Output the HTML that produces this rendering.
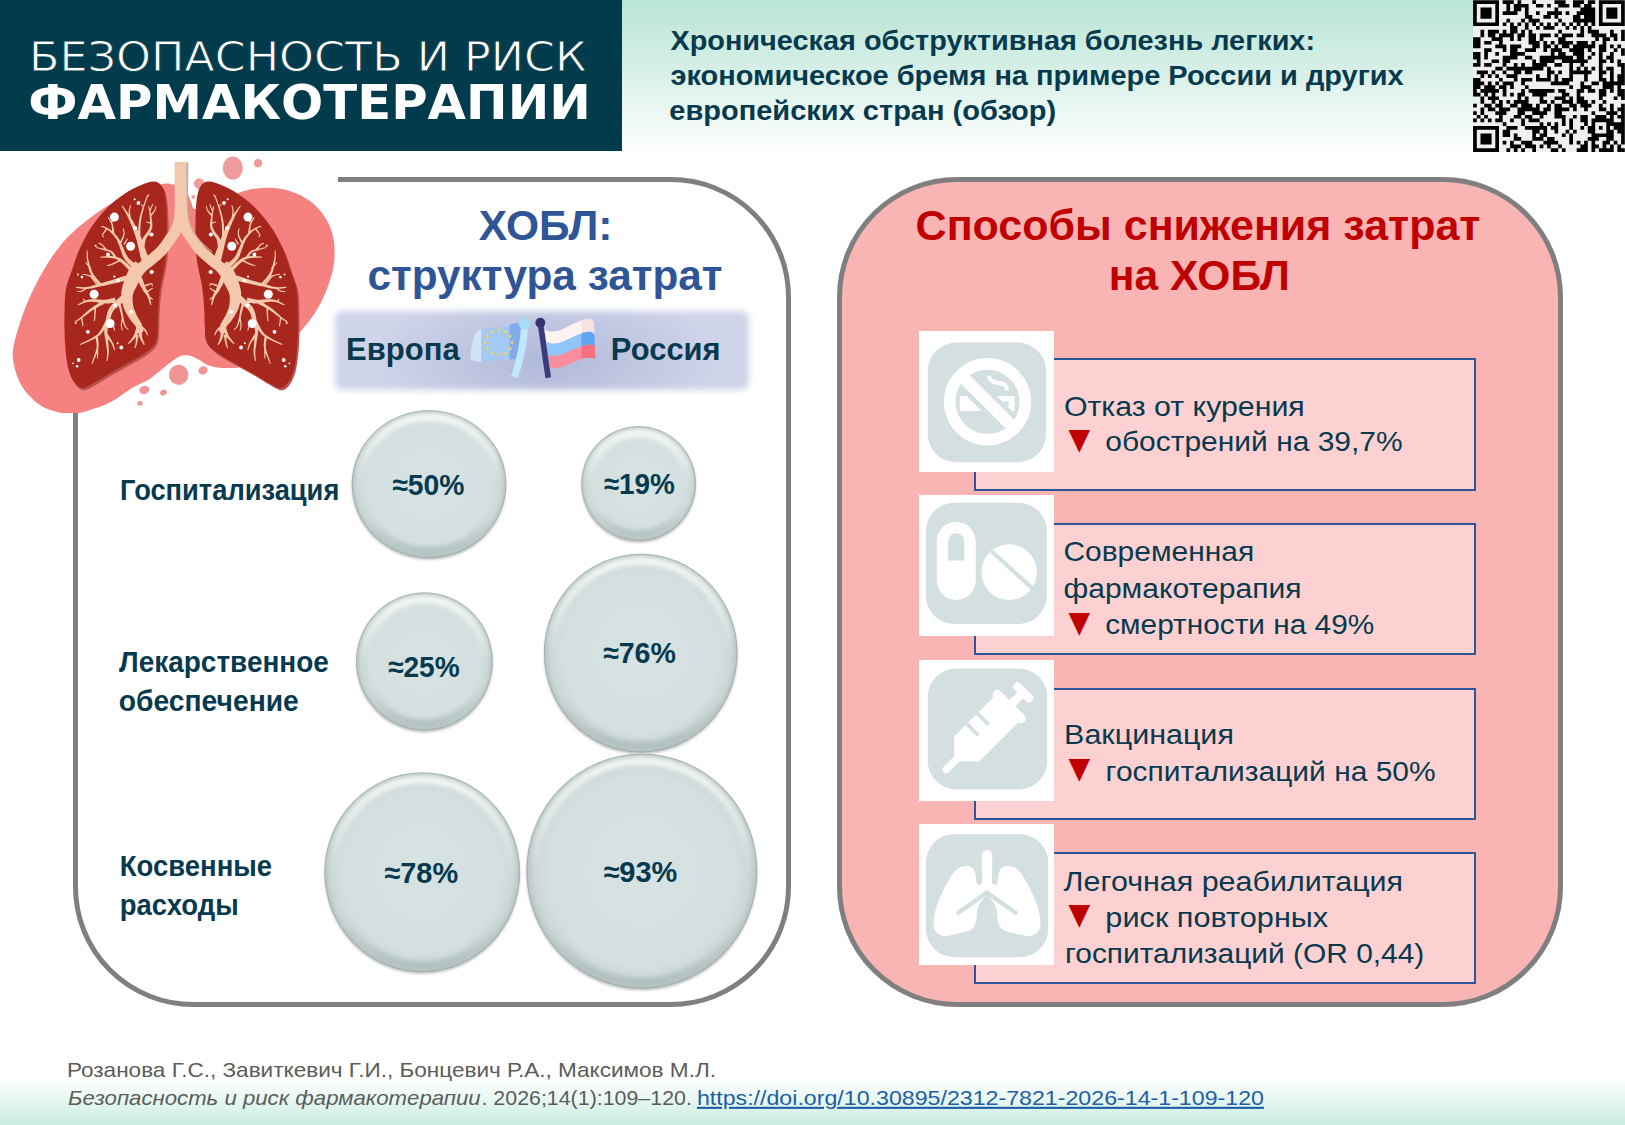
<!DOCTYPE html>
<html lang="ru">
<head>
<meta charset="utf-8">
<title>ХОБЛ: экономическое бремя</title>
<style>
html,body{margin:0;padding:0;}
body{width:1625px;height:1125px;position:relative;overflow:hidden;background:#fff;
 font-family:"Liberation Sans","DejaVu Sans",sans-serif;color:#0d3a4f;}
.abs{position:absolute;}
svg{position:absolute;left:0;top:0;overflow:visible;}
#hdrgrad{left:0;top:0;width:1625px;height:152px;background:linear-gradient(180deg,#b9e5d5 0%,#dbf1e9 52%,#ffffff 100%);}
#hdrdark{left:0;top:0;width:622px;height:151px;background:#023b4b;}
#ftrgrad{left:0;top:1078px;width:1625px;height:47px;background:linear-gradient(180deg,#ffffff 0%,#cbede1 100%);}
.panel{position:absolute;top:177px;height:819.5px;border:5px solid #7f7f7f;border-radius:120px;}
#lpanel{left:73px;width:708px;background:#fff;}
#rpanel{left:837px;width:716px;background:#f9b4b4;}
.card{position:absolute;left:974px;width:498px;height:128.4px;border:2px solid #2f5597;background:#fdd1d1;}
.ico{position:absolute;left:919px;width:135px;height:141px;background:#fff;}
#flagbox{left:335px;top:311px;width:414px;height:79px;border-radius:8px;
 background:radial-gradient(ellipse 42% 95% at 51% 62%,#b1b9db 0%,#bec5e0 45%,#cbd0e7 85%,#cfd4e9 100%);filter:blur(3.2px);}
#lungbg{left:0;top:152px;width:338px;height:261px;background:#fff;}
text{font-family:"Liberation Sans","DejaVu Sans",sans-serif;}
</style>
</head>
<body>
<div class="abs" id="hdrgrad"></div>
<div class="abs" id="ftrgrad"></div>
<div class="abs" id="hdrdark"></div>
<div class="panel" id="lpanel"></div>
<div class="panel" id="rpanel"></div>
<div class="abs" id="lungbg"></div>
<div class="abs" id="flagbox"></div>
<div class="card" style="top:358.4px"></div>
<div class="card" style="top:522.8px"></div>
<div class="card" style="top:687.5px"></div>
<div class="card" style="top:852px"></div>
<div class="ico" style="top:330.8px"></div>
<div class="ico" style="top:495.2px"></div>
<div class="ico" style="top:659.9px"></div>
<div class="ico" style="top:823.9px"></div>
<svg id="lungs" width="1625" height="1125" viewBox="0 0 1625 1125">
<defs><clipPath id="lclip"><rect x="0" y="152" width="338" height="261"/></clipPath></defs>
<g clip-path="url(#lclip)">
<path d="M163.0,184.0C156.7,185.3 145.6,187.1 134.4,192.0C123.2,196.9 108.4,204.6 96.0,213.6C83.6,222.6 70.8,232.6 60.0,246.0C49.2,259.4 38.8,278.0 31.2,294.0C23.6,310.0 17.4,330.2 14.5,342.0C11.6,353.8 12.7,357.6 14.0,365.0C15.3,372.4 18.0,379.9 22.1,386.4C26.2,392.9 33.2,400.0 38.8,404.2C44.3,408.4 49.9,409.9 55.4,411.5C60.9,413.1 66.5,414.2 72.0,414.0C77.5,413.8 82.1,412.5 88.6,410.5C95.0,408.5 103.3,405.8 110.7,402.0C118.1,398.2 126.5,391.3 132.9,387.5C139.3,383.7 144.0,382.6 149.2,379.2C154.4,375.8 159.1,371.1 164.0,367.4C168.9,363.7 174.6,358.8 178.7,356.8C182.8,354.8 185.3,355.2 188.6,355.6C191.9,356.1 195.1,357.9 198.4,359.5C201.7,361.1 204.2,363.8 208.3,365.2C212.4,366.6 216.9,367.8 223.0,367.9C229.1,368.0 236.3,368.6 245.0,366.0C253.7,363.4 266.2,357.2 275.0,352.0C283.8,346.8 290.0,342.9 297.6,334.8C305.2,326.7 314.4,315.2 320.4,303.6C326.4,292.0 331.8,277.2 333.7,265.2C335.6,253.2 334.7,241.5 331.7,231.6C328.7,221.7 322.5,212.4 315.6,205.7C308.7,199.0 299.0,194.3 290.4,191.3C281.8,188.3 272.8,187.6 264.0,187.9C255.2,188.2 244.3,190.5 237.6,193.2C230.9,195.9 229.1,200.7 224.0,204.0C218.9,207.3 211.5,212.1 207.0,213.0C202.5,213.9 199.3,210.3 197.0,209.5C194.7,208.7 194.2,209.2 193.2,208.0C192.2,206.8 191.7,203.9 191.0,202.0C190.3,200.1 189.6,198.5 188.8,196.5C188.0,194.5 187.5,191.8 186.0,190.0C184.5,188.2 182.3,186.4 180.0,185.5C177.7,184.6 174.8,184.6 172.0,184.3C169.2,184.1 169.3,182.7 163.0,184.0Z" fill="#f58181"/>
<ellipse cx="232.8" cy="168.0" rx="10.1" ry="11.5" fill="#f09b9b"/>
<ellipse cx="258.0" cy="163.2" rx="4.1" ry="4.1" fill="#f09b9b"/>
<ellipse cx="199.2" cy="183.6" rx="5.3" ry="5.3" fill="#f09b9b"/>
<ellipse cx="193.2" cy="196.8" rx="1.9" ry="1.9" fill="#f09b9b"/>
<ellipse cx="178.7" cy="374.8" rx="9.8" ry="10.0" fill="#ef9595" transform="rotate(-20 178.7 374.8)"/>
<ellipse cx="203.1" cy="370.4" rx="4.7" ry="3.9" fill="#ef9595" transform="rotate(-25 203.1 370.4)"/>
<ellipse cx="144.3" cy="390.0" rx="5.1" ry="4.1" fill="#ef9595" transform="rotate(-15 144.3 390.0)"/>
<ellipse cx="163.5" cy="392.5" rx="3.5" ry="2.7" fill="#ef9595" transform="rotate(-25 163.5 392.5)"/>
<ellipse cx="139.9" cy="403.3" rx="2.7" ry="2.4" fill="#ef9595" transform="rotate(0 139.9 403.3)"/>
<g id="Llung"><path d="M153.8,181.6C150.2,181.5 145.0,183.4 140.0,185.5C135.0,187.5 129.3,190.6 124.0,194.2C118.7,197.8 113.3,201.7 108.0,207.0C102.7,212.3 96.8,219.1 92.0,226.2C87.2,233.3 82.6,242.2 79.2,249.7C75.8,257.1 74.0,264.4 71.7,271.0C69.5,277.5 67.1,282.3 65.9,288.9C64.7,295.4 64.8,303.3 64.6,310.2C64.4,317.1 64.3,323.9 64.5,330.5C64.6,337.0 64.9,343.3 65.5,349.7C66.2,356.0 67.0,363.5 68.3,368.8C69.7,374.2 71.5,378.4 73.7,381.6C75.8,384.8 78.3,387.7 81.3,388.0C84.4,388.4 86.7,386.8 92.0,384.0C97.3,381.2 106.2,375.3 113.3,371.2C120.4,367.1 128.4,363.2 134.7,359.5C140.9,355.7 147.0,352.0 150.6,348.8C154.3,345.6 155.4,343.8 156.5,340.1C157.7,336.3 157.3,331.7 157.6,326.2C157.9,320.7 157.8,313.7 158.3,307.0C158.8,300.2 159.3,292.9 160.5,285.7C161.6,278.4 164.0,270.6 165.0,263.5C166.1,256.4 166.3,250.5 166.6,243.3C166.9,236.0 167.0,227.3 166.9,219.8C166.7,212.3 166.4,204.1 165.6,198.5C164.7,192.9 163.8,189.0 161.8,186.2C159.9,183.4 157.5,181.7 153.8,181.6Z" fill="#bb504c" transform="translate(1.6,2.2)"/>
<path d="M153.8,181.6C150.2,181.5 145.0,183.4 140.0,185.5C135.0,187.5 129.3,190.6 124.0,194.2C118.7,197.8 113.3,201.7 108.0,207.0C102.7,212.3 96.8,219.1 92.0,226.2C87.2,233.3 82.6,242.2 79.2,249.7C75.8,257.1 74.0,264.4 71.7,271.0C69.5,277.5 67.1,282.3 65.9,288.9C64.7,295.4 64.8,303.3 64.6,310.2C64.4,317.1 64.3,323.9 64.5,330.5C64.6,337.0 64.9,343.3 65.5,349.7C66.2,356.0 67.0,363.5 68.3,368.8C69.7,374.2 71.5,378.4 73.7,381.6C75.8,384.8 78.3,387.7 81.3,388.0C84.4,388.4 86.7,386.8 92.0,384.0C97.3,381.2 106.2,375.3 113.3,371.2C120.4,367.1 128.4,363.2 134.7,359.5C140.9,355.7 147.0,352.0 150.6,348.8C154.3,345.6 155.4,343.8 156.5,340.1C157.7,336.3 157.3,331.7 157.6,326.2C157.9,320.7 157.8,313.7 158.3,307.0C158.8,300.2 159.3,292.9 160.5,285.7C161.6,278.4 164.0,270.6 165.0,263.5C166.1,256.4 166.3,250.5 166.6,243.3C166.9,236.0 167.0,227.3 166.9,219.8C166.7,212.3 166.4,204.1 165.6,198.5C164.7,192.9 163.8,189.0 161.8,186.2C159.9,183.4 157.5,181.7 153.8,181.6Z" fill="#a7271c"/>
<path d="M135.4,261.2 L134.7,262.1 L133.7,263.4 L132.5,265.0 L131.2,266.8 L129.9,268.7 L128.6,270.6 L127.6,272.6 L126.7,274.5 L126.0,276.4 L125.4,278.0 L124.9,279.3 L124.6,280.2 L137.3,285.3 L137.7,284.3 L138.2,283.0 L138.8,281.6 L139.4,280.1 L140.1,278.8 L140.7,277.7 L141.4,276.6 L142.5,275.2 L143.7,273.7 L144.8,272.3 L145.9,271.0 L146.7,270.1Z M124.6,279.9 L124.3,281.0 L123.7,282.5 L123.0,284.6 L122.3,287.0 L121.7,289.6 L121.3,292.3 L121.3,294.9 L121.4,297.4 L121.7,299.9 L122.2,302.4 L122.8,304.8 L123.5,307.2 L124.4,309.6 L125.5,311.9 L126.7,314.0 L127.9,316.1 L129.1,317.9 L130.2,319.6 L131.3,321.2 L132.5,322.6 L133.5,323.8 L134.5,324.8 L135.2,325.7 L135.8,326.5 L136.3,327.5 L136.9,328.7 L137.3,330.0 L137.7,331.3 L138.0,332.4 L138.3,333.2 L143.4,332.0 L143.2,331.2 L143.1,330.1 L142.9,328.6 L142.6,327.1 L142.2,325.4 L141.6,323.7 L140.8,322.2 L140.0,320.8 L139.1,319.5 L138.4,318.3 L137.7,317.1 L137.0,315.7 L136.2,314.0 L135.4,312.1 L134.6,310.2 L133.9,308.3 L133.4,306.4 L133.0,304.6 L132.8,302.8 L132.6,300.9 L132.6,299.0 L132.6,297.1 L132.8,295.4 L133.1,293.9 L133.5,292.6 L134.1,291.1 L135.0,289.4 L135.8,287.8 L136.7,286.2 L137.2,285.0Z M138.0,330.7 L138.2,331.5 L138.4,332.6 L138.7,333.9 L139.0,335.4 L139.4,336.9 L139.9,338.3 L140.5,339.6 L141.3,341.0 L142.1,342.2 L142.9,343.4 L143.5,344.4 L144.0,345.1 L144.9,344.6 L144.6,343.8 L144.1,342.7 L143.6,341.5 L143.0,340.1 L142.6,338.8 L142.2,337.6 L142.1,336.3 L142.0,335.0 L141.9,333.6 L141.9,332.2 L141.9,331.1 L141.9,330.2Z M136.6,326.6 L136.2,327.6 L135.9,329.1 L135.4,330.7 L134.8,332.5 L134.2,334.2 L133.6,335.7 L132.8,337.1 L131.7,338.6 L130.6,340.1 L129.5,341.4 L128.5,342.6 L127.9,343.4 L128.6,344.1 L129.4,343.4 L130.5,342.4 L131.8,341.2 L133.2,339.8 L134.6,338.4 L135.7,337.0 L136.7,335.4 L137.6,333.7 L138.4,331.9 L139.2,330.3 L139.8,328.9 L140.2,327.9Z M136.0,334.6 L136.0,335.6 L135.9,337.0 L135.9,338.6 L135.8,340.3 L135.7,341.8 L135.6,343.1 L135.4,344.1 L135.2,345.1 L134.9,346.0 L134.6,346.7 L134.4,347.4 L134.2,347.9 L135.1,348.2 L135.3,347.8 L135.6,347.2 L136.0,346.4 L136.4,345.5 L136.8,344.5 L137.1,343.4 L137.4,342.1 L137.7,340.5 L138.0,338.8 L138.3,337.2 L138.5,335.8 L138.6,334.8Z M138.3,326.8 L139.1,327.3 L140.1,327.9 L141.4,328.7 L142.7,329.5 L143.8,330.3 L144.7,331.0 L145.3,331.7 L145.8,332.6 L146.3,333.4 L146.7,334.2 L147.0,334.9 L147.2,335.4 L148.1,335.1 L147.9,334.5 L147.7,333.8 L147.5,332.9 L147.1,331.9 L146.6,330.9 L146.0,329.9 L145.1,328.9 L144.0,327.8 L142.8,326.8 L141.6,325.9 L140.6,325.1 L140.0,324.5Z M123.9,292.9 L123.2,293.6 L122.2,294.5 L121.1,295.7 L119.8,296.9 L118.5,298.3 L117.2,299.5 L116.0,300.8 L114.6,302.1 L113.1,303.4 L111.7,304.9 L110.3,306.6 L109.1,308.4 L108.2,310.2 L107.5,312.1 L107.0,314.0 L106.6,315.8 L106.3,317.6 L106.0,319.3 L105.6,321.0 L105.2,322.8 L104.8,324.7 L104.5,326.6 L104.3,328.5 L104.2,330.4 L104.3,332.3 L104.4,334.2 L104.7,336.0 L105.1,337.8 L105.4,339.5 L105.7,341.3 L105.9,343.1 L106.2,344.9 L106.5,346.7 L106.8,348.4 L107.0,350.2 L107.1,351.8 L107.1,353.4 L107.0,355.2 L106.9,356.9 L106.7,358.5 L106.5,359.8 L106.4,360.8 L107.4,360.9 L107.6,360.0 L107.9,358.7 L108.2,357.1 L108.5,355.3 L108.7,353.5 L108.9,351.8 L108.9,350.0 L108.8,348.3 L108.6,346.4 L108.5,344.6 L108.3,342.8 L108.2,341.0 L108.0,339.2 L107.8,337.4 L107.6,335.6 L107.5,333.9 L107.4,332.2 L107.5,330.5 L107.7,328.9 L108.1,327.2 L108.5,325.5 L109.0,323.8 L109.5,322.0 L110.0,320.3 L110.5,318.5 L111.0,316.8 L111.4,315.2 L111.9,313.6 L112.6,312.2 L113.3,311.0 L114.2,309.8 L115.4,308.6 L116.8,307.4 L118.2,306.2 L119.7,305.0 L121.2,303.8 L122.5,302.6 L123.9,301.4 L125.2,300.3 L126.5,299.2 L127.5,298.3 L128.3,297.7Z M105.6,335.4 L106.3,336.4 L107.3,337.7 L108.4,339.2 L109.6,340.7 L110.7,342.3 L111.5,343.6 L112.2,344.9 L112.7,346.2 L113.2,347.4 L113.6,348.6 L113.9,349.6 L114.1,350.3 L115.1,350.0 L114.9,349.3 L114.7,348.3 L114.4,347.1 L114.0,345.7 L113.6,344.3 L113.0,342.9 L112.2,341.4 L111.3,339.7 L110.2,337.9 L109.2,336.3 L108.4,335.0 L107.8,334.0Z M107.4,322.8 L108.0,323.2 L108.9,323.7 L109.9,324.4 L111.0,325.1 L111.9,325.8 L112.5,326.4 L113.0,327.1 L113.3,327.9 L113.6,328.7 L113.8,329.5 L114.0,330.3 L114.1,330.8 L115.1,330.6 L115.0,330.0 L114.9,329.3 L114.7,328.4 L114.5,327.5 L114.2,326.5 L113.7,325.5 L112.9,324.7 L112.0,323.8 L111.0,322.9 L110.0,322.2 L109.2,321.5 L108.6,321.1Z M116.7,299.4 L117.1,300.6 L117.6,302.3 L118.2,304.3 L118.8,306.5 L119.4,308.6 L119.9,310.4 L120.4,312.1 L120.8,313.8 L121.2,315.5 L121.6,317.1 L122.0,318.6 L122.3,320.0 L122.7,321.3 L123.1,322.5 L123.5,323.7 L123.8,324.8 L124.3,325.8 L124.7,326.7 L125.3,327.5 L126.0,328.2 L126.6,328.8 L127.3,329.3 L127.8,329.7 L128.2,330.0 L128.8,329.2 L128.4,328.9 L127.9,328.5 L127.3,328.0 L126.8,327.4 L126.2,326.8 L125.8,326.1 L125.4,325.3 L125.1,324.3 L124.8,323.3 L124.5,322.1 L124.2,320.9 L123.9,319.6 L123.6,318.2 L123.3,316.7 L123.0,315.1 L122.7,313.4 L122.4,311.7 L122.1,309.9 L121.6,308.0 L121.2,305.9 L120.7,303.7 L120.2,301.6 L119.8,299.9 L119.5,298.6Z M121.7,317.5 L121.6,318.4 L121.4,319.5 L121.2,320.9 L121.0,322.4 L120.9,323.8 L120.8,325.1 L120.9,326.3 L121.1,327.4 L121.4,328.5 L121.6,329.4 L121.9,330.2 L122.0,330.8 L123.0,330.6 L122.8,330.0 L122.6,329.2 L122.4,328.2 L122.2,327.2 L122.1,326.2 L122.0,325.1 L122.1,324.0 L122.3,322.6 L122.6,321.2 L122.9,319.8 L123.1,318.6 L123.3,317.8Z M115.0,297.6 L113.8,297.9 L112.2,298.3 L110.3,298.7 L108.4,299.2 L106.4,299.5 L104.7,299.7 L103.2,299.8 L101.7,299.7 L100.1,299.5 L98.5,299.4 L96.9,299.2 L95.3,299.2 L93.7,299.2 L92.3,299.2 L90.8,299.3 L89.4,299.5 L87.9,299.8 L86.4,300.2 L84.8,300.8 L83.1,301.6 L81.4,302.5 L79.9,303.3 L78.6,304.1 L77.7,304.6 L78.1,305.5 L79.1,305.1 L80.5,304.5 L82.1,303.8 L83.8,303.1 L85.4,302.5 L86.9,302.1 L88.3,301.9 L89.6,301.8 L90.9,301.8 L92.3,301.8 L93.7,301.9 L95.1,302.0 L96.6,302.2 L98.0,302.5 L99.6,302.8 L101.2,303.2 L103.0,303.5 L104.8,303.6 L106.8,303.5 L109.0,303.4 L111.1,303.1 L113.1,302.9 L114.7,302.6 L115.9,302.5Z M102.4,301.0 L101.5,301.5 L100.3,302.2 L98.9,303.1 L97.4,304.0 L95.9,304.9 L94.5,305.8 L93.2,306.7 L91.9,307.7 L90.6,308.6 L89.4,309.6 L88.2,310.5 L87.1,311.5 L86.0,312.4 L84.9,313.4 L83.9,314.3 L82.9,315.3 L81.9,316.2 L80.9,317.0 L79.7,317.9 L78.5,318.8 L77.3,319.7 L76.1,320.5 L75.1,321.2 L74.4,321.7 L75.0,322.6 L75.7,322.1 L76.8,321.5 L78.0,320.8 L79.3,320.0 L80.6,319.1 L81.8,318.3 L82.9,317.5 L84.0,316.6 L85.1,315.7 L86.2,314.9 L87.3,314.0 L88.4,313.2 L89.6,312.3 L90.8,311.5 L92.1,310.6 L93.4,309.8 L94.6,308.9 L95.9,308.2 L97.3,307.4 L98.8,306.6 L100.4,305.8 L101.9,305.1 L103.1,304.5 L104.0,304.0Z M80.8,317.6 L81.0,318.6 L81.3,320.2 L81.7,322.0 L82.0,323.8 L82.3,325.4 L82.6,326.5 L83.5,326.3 L83.4,325.2 L83.2,323.7 L82.9,321.8 L82.7,320.0 L82.5,318.4 L82.3,317.3Z M94.3,307.0 L94.3,308.2 L94.3,310.0 L94.3,312.1 L94.3,314.2 L94.2,316.1 L94.2,317.6 L94.1,318.6 L94.0,319.4 L93.9,319.9 L93.8,320.3 L93.7,320.7 L93.7,321.0 L94.6,321.2 L94.7,320.9 L94.8,320.6 L94.9,320.2 L95.1,319.6 L95.2,318.8 L95.4,317.7 L95.5,316.2 L95.6,314.3 L95.8,312.1 L95.9,310.1 L96.0,308.3 L96.1,307.0Z M85.3,300.9 L85.2,300.6 L84.9,300.2 L84.6,299.7 L84.3,299.2 L84.1,298.8 L83.9,298.5 L83.0,298.9 L83.2,299.2 L83.4,299.7 L83.6,300.2 L83.8,300.7 L84.0,301.2 L84.2,301.5Z M106.5,319.0 L105.7,320.5 L104.7,322.6 L103.5,325.1 L102.2,327.6 L100.8,329.9 L99.6,331.8 L98.4,333.2 L97.2,334.4 L95.9,335.4 L94.6,336.3 L93.1,337.2 L91.5,338.2 L89.7,339.3 L87.5,340.4 L85.2,341.5 L83.0,342.6 L81.2,343.4 L79.8,344.1 L80.3,345.0 L81.6,344.5 L83.5,343.7 L85.8,342.8 L88.2,341.8 L90.4,340.8 L92.4,339.8 L94.1,338.9 L95.7,338.0 L97.2,337.1 L98.6,336.1 L100.0,334.9 L101.5,333.4 L103.0,331.4 L104.6,329.0 L106.1,326.5 L107.5,324.1 L108.6,322.0 L109.5,320.6Z M95.2,335.8 L95.4,337.1 L95.7,338.8 L96.1,340.9 L96.5,343.1 L96.6,345.3 L96.6,347.4 L96.2,349.5 L95.6,351.8 L94.8,354.2 L94.0,356.5 L93.3,358.5 L92.7,360.1 L92.4,361.3 L92.1,362.1 L91.9,362.6 L91.8,363.0 L91.6,363.3 L91.5,363.6 L92.4,363.9 L92.5,363.7 L92.7,363.4 L92.8,363.0 L93.1,362.5 L93.4,361.6 L93.8,360.5 L94.5,358.9 L95.3,357.0 L96.3,354.7 L97.2,352.3 L98.0,349.9 L98.5,347.6 L98.7,345.3 L98.6,342.9 L98.4,340.6 L98.1,338.4 L97.9,336.7 L97.8,335.4Z M96.8,347.5 L96.8,348.8 L96.8,350.7 L96.9,353.0 L97.0,355.2 L97.0,357.1 L97.1,358.4 L98.0,358.4 L98.1,357.1 L98.1,355.2 L98.2,353.0 L98.2,350.7 L98.3,348.8 L98.3,347.5Z M127.5,274.9 L125.9,275.4 L123.6,276.2 L120.9,277.1 L118.1,278.0 L115.3,278.9 L112.8,279.7 L110.6,280.4 L108.5,281.0 L106.4,281.6 L104.4,282.2 L102.3,282.8 L100.2,283.4 L97.9,284.1 L95.5,284.8 L93.2,285.5 L90.8,286.2 L88.6,286.7 L86.6,287.1 L84.6,287.3 L82.5,287.3 L80.5,287.1 L78.7,286.9 L77.2,286.8 L76.1,286.7 L75.9,287.7 L77.0,287.9 L78.6,288.2 L80.4,288.5 L82.4,288.8 L84.6,289.0 L86.7,289.0 L89.0,288.7 L91.3,288.4 L93.8,287.9 L96.2,287.3 L98.6,286.8 L100.9,286.3 L103.1,285.9 L105.2,285.4 L107.3,285.0 L109.4,284.6 L111.6,284.1 L113.8,283.6 L116.4,283.0 L119.3,282.3 L122.2,281.6 L125.0,280.9 L127.3,280.3 L129.0,279.9Z M101.7,283.8 L100.7,282.7 L99.2,281.2 L97.6,279.5 L95.9,277.5 L94.3,275.6 L93.0,273.6 L92.0,271.6 L91.1,269.3 L90.3,266.9 L89.6,264.5 L89.0,262.3 L88.5,260.2 L88.1,258.2 L87.9,256.3 L87.8,254.5 L87.7,252.9 L87.7,251.5 L87.7,250.5 L86.7,250.5 L86.7,251.5 L86.6,252.9 L86.6,254.6 L86.6,256.4 L86.7,258.4 L87.0,260.5 L87.4,262.6 L87.9,265.0 L88.4,267.5 L89.1,270.0 L90.0,272.4 L91.0,274.7 L92.2,277.0 L93.8,279.2 L95.5,281.3 L97.1,283.2 L98.4,284.7 L99.3,285.9Z M94.4,276.6 L93.7,276.4 L92.7,276.1 L91.5,275.7 L90.2,275.3 L89.0,275.0 L87.9,274.7 L86.8,274.4 L85.8,274.2 L84.8,274.1 L83.8,273.9 L83.0,273.8 L82.5,273.7 L82.3,274.7 L82.9,274.8 L83.6,274.9 L84.6,275.1 L85.6,275.3 L86.6,275.6 L87.6,275.8 L88.6,276.2 L89.8,276.6 L91.0,277.0 L92.2,277.5 L93.2,277.9 L93.9,278.1Z M91.5,268.3 L90.9,267.6 L89.9,266.5 L88.7,265.2 L87.6,264.0 L86.6,262.9 L86.0,262.1 L85.2,262.8 L85.8,263.5 L86.7,264.7 L87.8,266.1 L88.8,267.4 L89.7,268.6 L90.3,269.3Z M86.2,287.4 L85.6,287.8 L84.8,288.4 L83.9,289.0 L82.9,289.7 L81.9,290.3 L81.1,290.7 L80.4,290.9 L79.6,291.0 L78.9,291.0 L78.2,291.0 L77.5,291.0 L77.1,291.0 L77.1,291.9 L77.5,292.0 L78.1,292.0 L78.9,292.1 L79.7,292.1 L80.6,292.0 L81.5,291.8 L82.5,291.4 L83.6,290.8 L84.6,290.2 L85.6,289.6 L86.5,289.1 L87.1,288.7Z M97.9,284.7 L97.3,283.9 L96.4,282.8 L95.4,281.4 L94.3,280.1 L93.3,278.8 L92.4,277.8 L91.7,277.0 L91.0,276.4 L90.4,275.8 L89.9,275.3 L89.4,274.9 L89.1,274.7 L88.5,275.3 L88.8,275.7 L89.2,276.1 L89.7,276.5 L90.3,277.1 L90.9,277.8 L91.5,278.6 L92.3,279.6 L93.3,280.9 L94.3,282.3 L95.3,283.6 L96.1,284.8 L96.7,285.6Z M131.7,267.4 L130.5,266.4 L128.8,264.9 L126.7,263.1 L124.5,261.2 L122.4,259.6 L120.4,258.3 L118.7,257.5 L117.2,256.9 L115.7,256.6 L114.3,256.4 L112.8,256.3 L111.3,256.1 L109.5,256.1 L107.4,256.1 L105.3,256.2 L103.3,256.4 L101.7,256.5 L100.5,256.6 L100.5,257.6 L101.7,257.7 L103.4,257.7 L105.3,257.7 L107.4,257.8 L109.4,257.9 L111.1,258.1 L112.6,258.3 L113.9,258.5 L115.2,258.8 L116.4,259.2 L117.7,259.8 L119.0,260.6 L120.6,261.9 L122.5,263.6 L124.4,265.5 L126.3,267.4 L127.9,269.1 L129.1,270.3Z M116.6,257.0 L116.2,256.3 L115.5,255.4 L114.7,254.2 L113.8,253.1 L112.8,251.9 L111.8,251.0 L110.7,250.4 L109.6,250.0 L108.5,249.7 L107.3,249.4 L106.2,249.2 L105.0,248.9 L103.6,248.6 L101.9,248.2 L100.3,247.9 L98.7,247.5 L97.3,247.3 L96.4,247.1 L96.1,248.0 L97.1,248.2 L98.4,248.6 L100.0,249.0 L101.6,249.5 L103.2,249.9 L104.6,250.4 L105.8,250.7 L107.0,251.0 L108.0,251.3 L109.0,251.6 L109.8,252.0 L110.6,252.5 L111.4,253.3 L112.2,254.3 L112.9,255.5 L113.6,256.6 L114.2,257.6 L114.7,258.3Z M107.5,250.0 L106.9,249.3 L106.0,248.3 L105.0,247.2 L103.9,246.0 L102.8,244.9 L102.0,244.1 L101.2,243.6 L100.5,243.2 L99.8,243.0 L99.2,242.9 L98.8,242.9 L98.5,242.8 L98.3,243.7 L98.6,243.8 L99.0,243.9 L99.5,244.0 L100.0,244.2 L100.6,244.5 L101.2,245.0 L102.0,245.7 L102.9,246.8 L103.9,248.0 L104.9,249.2 L105.7,250.3 L106.3,251.0Z M119.3,259.5 L118.6,259.9 L117.6,260.5 L116.5,261.2 L115.3,261.9 L114.1,262.5 L113.0,263.1 L112.0,263.6 L110.8,264.0 L109.6,264.5 L108.4,264.8 L107.5,265.2 L106.8,265.4 L107.1,266.3 L107.8,266.1 L108.7,265.9 L109.9,265.6 L111.1,265.2 L112.4,264.8 L113.6,264.4 L114.8,263.8 L116.1,263.2 L117.3,262.6 L118.5,262.0 L119.5,261.5 L120.2,261.1Z M136.7,265.0 L135.6,264.1 L134.1,262.8 L132.3,261.4 L130.5,259.9 L128.9,258.4 L127.7,257.0 L126.8,255.7 L126.0,254.3 L125.3,252.8 L124.7,251.2 L124.0,249.6 L123.3,248.0 L122.6,246.4 L121.9,244.8 L121.2,243.1 L120.4,241.5 L119.6,239.9 L118.6,238.3 L117.6,236.9 L116.5,235.5 L115.3,234.2 L114.1,233.0 L112.9,231.9 L111.8,230.8 L110.6,229.9 L109.4,229.1 L108.2,228.4 L107.1,227.8 L106.0,227.3 L105.1,226.9 L104.2,226.5 L103.4,226.3 L102.6,226.1 L102.0,226.0 L101.5,226.0 L101.2,225.9 L100.9,226.9 L101.3,227.0 L101.8,227.1 L102.4,227.2 L103.0,227.4 L103.7,227.7 L104.5,228.1 L105.4,228.5 L106.4,229.1 L107.4,229.8 L108.5,230.5 L109.6,231.3 L110.6,232.2 L111.6,233.2 L112.7,234.4 L113.7,235.6 L114.7,236.9 L115.7,238.3 L116.5,239.6 L117.3,241.1 L117.9,242.6 L118.6,244.2 L119.2,245.8 L119.8,247.5 L120.4,249.2 L121.0,250.8 L121.5,252.4 L122.1,254.1 L122.7,255.8 L123.5,257.6 L124.6,259.3 L126.0,261.1 L127.7,262.9 L129.5,264.7 L131.2,266.2 L132.6,267.5 L133.6,268.5Z M120.5,244.7 L121.0,243.6 L121.8,242.1 L122.6,240.3 L123.5,238.3 L124.2,236.5 L124.6,234.9 L124.7,233.4 L124.6,232.0 L124.4,230.8 L124.0,229.7 L123.8,228.9 L123.6,228.2 L122.7,228.4 L122.8,229.1 L123.0,230.0 L123.3,231.0 L123.5,232.2 L123.5,233.4 L123.4,234.6 L122.9,236.0 L122.1,237.7 L121.2,239.6 L120.3,241.3 L119.5,242.8 L118.9,243.9Z M124.7,244.9 L125.0,244.2 L125.6,243.2 L126.2,242.0 L126.9,240.8 L127.4,239.7 L127.8,239.0 L127.0,238.5 L126.5,239.2 L125.9,240.2 L125.2,241.3 L124.4,242.5 L123.8,243.5 L123.3,244.1Z M114.4,233.5 L114.2,232.6 L114.1,231.2 L113.9,229.6 L113.6,227.9 L113.3,226.3 L113.0,224.9 L112.6,223.8 L112.1,222.7 L111.5,221.8 L111.0,220.9 L110.5,220.2 L110.1,219.5 L109.7,218.9 L109.4,218.3 L109.1,217.9 L108.8,217.4 L108.6,217.1 L108.4,216.9 L107.6,217.4 L107.7,217.6 L107.9,218.0 L108.2,218.4 L108.5,218.9 L108.8,219.4 L109.1,220.1 L109.5,220.8 L109.9,221.6 L110.4,222.4 L110.8,223.3 L111.2,224.3 L111.5,225.3 L111.7,226.6 L111.9,228.2 L112.0,229.8 L112.1,231.4 L112.2,232.8 L112.3,233.8Z M109.9,221.6 L110.3,221.7 L110.9,221.9 L111.6,222.1 L112.2,222.3 L112.8,222.5 L113.2,222.6 L113.5,221.7 L113.1,221.5 L112.5,221.3 L111.9,221.1 L111.2,220.9 L110.7,220.7 L110.3,220.5Z M106.3,228.1 L105.8,228.8 L105.0,229.9 L104.2,231.1 L103.3,232.4 L102.6,233.5 L102.1,234.5 L102.0,235.4 L102.2,236.1 L102.5,236.6 L102.9,237.0 L103.2,237.2 L103.4,237.4 L104.1,236.8 L103.9,236.5 L103.6,236.2 L103.3,236.0 L103.1,235.7 L103.1,235.4 L103.2,234.9 L103.6,234.1 L104.4,233.1 L105.3,231.9 L106.2,230.7 L107.0,229.7 L107.6,229.0Z M149.1,259.2 L148.6,258.1 L148.1,256.5 L147.4,254.6 L146.6,252.6 L145.9,250.6 L145.2,248.7 L144.6,247.0 L144.0,245.3 L143.4,243.5 L142.8,241.7 L142.1,239.9 L141.4,238.1 L140.6,236.4 L139.9,234.7 L139.1,232.9 L138.3,231.2 L137.4,229.4 L136.4,227.5 L135.3,225.5 L134.1,223.3 L132.9,221.1 L131.6,218.9 L130.4,216.9 L129.2,215.0 L128.1,213.3 L126.9,211.6 L125.8,210.0 L124.8,208.7 L124.0,207.6 L123.4,206.7 L122.5,207.3 L123.0,208.2 L123.7,209.4 L124.5,210.9 L125.5,212.5 L126.4,214.3 L127.3,216.1 L128.2,218.0 L129.2,220.2 L130.2,222.5 L131.1,224.8 L132.1,227.0 L132.9,229.1 L133.6,231.0 L134.3,232.9 L134.9,234.6 L135.4,236.4 L135.9,238.1 L136.5,239.8 L136.9,241.6 L137.4,243.4 L137.8,245.1 L138.2,246.9 L138.6,248.7 L139.0,250.6 L139.5,252.5 L140.0,254.6 L140.4,256.7 L140.9,258.6 L141.3,260.3 L141.6,261.4Z M131.3,219.7 L131.1,218.7 L130.9,217.4 L130.6,215.8 L130.3,214.2 L130.1,212.6 L130.0,211.3 L130.0,210.1 L130.2,208.9 L130.4,207.8 L130.7,206.7 L130.9,205.9 L131.1,205.2 L130.1,205.0 L130.0,205.6 L129.7,206.4 L129.4,207.5 L129.0,208.7 L128.8,209.9 L128.7,211.2 L128.7,212.7 L128.8,214.3 L129.0,216.0 L129.2,217.6 L129.4,219.0 L129.5,219.9Z M126.6,211.1 L126.1,210.4 L125.3,209.5 L124.4,208.4 L123.5,207.2 L122.8,206.3 L122.2,205.6 L121.5,206.2 L122.0,206.9 L122.7,207.9 L123.5,209.0 L124.4,210.2 L125.1,211.2 L125.6,211.9Z M144.3,248.9 L144.4,247.8 L144.6,246.3 L144.8,244.5 L145.1,242.7 L145.4,240.9 L145.8,239.6 L146.2,238.5 L146.8,237.5 L147.5,236.5 L148.3,235.5 L149.0,234.4 L149.7,233.3 L150.3,232.2 L150.8,231.1 L151.3,230.1 L151.7,228.9 L152.1,227.7 L152.3,226.3 L152.4,224.9 L152.3,223.4 L152.2,221.9 L151.9,220.4 L151.7,218.9 L151.5,217.6 L151.3,216.2 L151.1,214.9 L150.9,213.5 L150.6,212.3 L150.4,211.1 L150.2,210.1 L150.0,209.1 L149.7,208.3 L149.5,207.6 L149.3,206.9 L149.1,206.4 L149.0,206.0 L148.1,206.3 L148.2,206.7 L148.3,207.2 L148.5,207.8 L148.6,208.6 L148.8,209.4 L149.0,210.3 L149.1,211.3 L149.3,212.5 L149.4,213.8 L149.6,215.1 L149.7,216.4 L149.8,217.8 L149.9,219.1 L150.0,220.6 L150.1,222.1 L150.2,223.5 L150.2,224.8 L150.0,226.0 L149.8,227.1 L149.4,228.1 L149.0,229.0 L148.5,229.9 L147.9,230.9 L147.3,231.9 L146.7,232.8 L146.0,233.7 L145.2,234.7 L144.3,235.7 L143.5,237.0 L142.7,238.4 L142.1,240.1 L141.7,242.0 L141.2,243.9 L140.9,245.7 L140.6,247.2 L140.4,248.3Z M150.8,222.6 L150.3,222.4 L149.6,222.2 L148.7,222.0 L147.8,221.8 L147.0,221.6 L146.5,221.5 L146.2,222.4 L146.8,222.6 L147.5,222.8 L148.4,223.1 L149.2,223.4 L150.0,223.7 L150.5,223.8Z M151.3,216.2 L151.7,215.6 L152.4,214.7 L153.3,213.7 L154.1,212.5 L154.8,211.4 L155.4,210.5 L155.8,209.6 L156.1,208.7 L156.2,207.9 L156.3,207.2 L156.4,206.6 L156.5,206.2 L155.5,206.1 L155.4,206.5 L155.3,207.1 L155.2,207.7 L155.0,208.4 L154.8,209.2 L154.4,209.9 L153.8,210.7 L153.0,211.7 L152.2,212.8 L151.3,213.8 L150.6,214.6 L150.0,215.2Z M150.7,210.7 L151.0,209.9 L151.5,208.7 L152.0,207.4 L152.5,206.1 L152.9,205.0 L153.2,204.2 L152.3,203.8 L152.0,204.6 L151.5,205.7 L150.9,207.0 L150.4,208.3 L149.9,209.4 L149.5,210.2Z M140.4,240.1 L140.4,238.5 L140.4,236.4 L140.4,233.8 L140.4,231.1 L140.4,228.5 L140.5,226.3 L140.6,224.3 L140.8,222.5 L141.0,220.8 L141.3,219.1 L141.5,217.4 L141.9,215.7 L142.3,213.9 L142.8,212.2 L143.3,210.4 L143.8,208.6 L144.3,206.8 L144.9,205.1 L145.4,203.3 L146.1,201.4 L146.7,199.6 L147.3,197.9 L147.8,196.5 L148.1,195.4 L147.2,195.1 L146.8,196.1 L146.3,197.5 L145.6,199.2 L144.9,201.0 L144.3,202.9 L143.6,204.7 L143.0,206.4 L142.4,208.1 L141.8,209.9 L141.2,211.7 L140.7,213.5 L140.2,215.3 L139.8,217.1 L139.4,218.8 L139.1,220.5 L138.9,222.3 L138.6,224.1 L138.4,226.1 L138.2,228.4 L138.1,231.1 L138.0,233.8 L137.9,236.3 L137.9,238.5 L137.8,240.0Z M146.8,198.3 L147.2,197.9 L147.6,197.2 L148.2,196.5 L148.7,195.8 L149.2,195.1 L149.5,194.7 L148.8,194.1 L148.4,194.5 L147.9,195.1 L147.3,195.8 L146.8,196.5 L146.3,197.2 L145.9,197.6Z M144.1,206.6 L143.8,206.3 L143.3,205.8 L142.8,205.3 L142.2,204.8 L141.7,204.3 L141.4,204.0 L140.7,204.7 L141.0,205.0 L141.5,205.5 L142.0,206.0 L142.5,206.6 L143.0,207.1 L143.3,207.4Z M136.4,278.2 L137.1,279.5 L138.1,281.3 L139.2,283.5 L140.4,285.7 L141.6,287.8 L142.6,289.7 L143.6,291.2 L144.5,292.5 L145.3,293.6 L146.1,294.6 L146.8,295.6 L147.4,296.8 L148.0,298.1 L148.6,299.7 L149.2,301.4 L149.6,302.9 L150.1,304.2 L150.4,305.2 L151.4,305.0 L151.2,304.0 L151.0,302.6 L150.7,301.0 L150.4,299.2 L150.1,297.5 L149.6,295.9 L149.1,294.5 L148.5,293.2 L147.8,292.0 L147.2,290.8 L146.5,289.5 L145.9,288.0 L145.1,286.2 L144.3,284.0 L143.4,281.6 L142.6,279.3 L141.9,277.4 L141.4,276.0Z M145.6,286.5 L146.3,286.2 L147.4,285.8 L148.6,285.3 L149.8,284.8 L150.8,284.5 L151.5,284.4 L151.6,284.4 L151.7,284.5 L151.8,284.9 L151.8,285.3 L151.8,285.8 L151.9,286.1 L152.8,286.0 L152.8,285.8 L152.8,285.3 L152.9,284.7 L152.7,284.1 L152.3,283.5 L151.5,283.1 L150.6,283.2 L149.4,283.5 L148.1,283.8 L146.8,284.2 L145.8,284.6 L145.0,284.8Z M147.0,292.7 L147.7,292.2 L148.8,291.4 L150.0,290.6 L151.3,289.7 L152.3,288.9 L153.0,288.4 L152.5,287.6 L151.8,288.1 L150.6,288.7 L149.3,289.5 L148.0,290.3 L146.9,291.0 L146.2,291.4Z M148.3,297.2 L148.8,297.5 L149.6,298.0 L150.5,298.6 L151.4,299.2 L152.2,299.8 L152.7,300.1 L153.3,299.4 L152.8,298.9 L152.1,298.3 L151.2,297.6 L150.4,296.9 L149.7,296.3 L149.2,295.9Z" fill="#f4c8ad"/>
<circle cx="114.4" cy="217.1" r="4.5" fill="#fff"/>
<circle cx="130.6" cy="246.2" r="4.5" fill="#fff"/>
<circle cx="94.1" cy="294.2" r="4.5" fill="#fff"/>
<circle cx="110.1" cy="323.5" r="4.5" fill="#fff"/>
<circle cx="138.4" cy="202.9" r="1.9" fill="#fff"/>
<circle cx="134.7" cy="199.3" r="1.0" fill="#fff"/>
<circle cx="135.2" cy="228.0" r="2.1" fill="#fff"/>
<circle cx="151.5" cy="234.5" r="2.1" fill="#fff"/>
<circle cx="108.0" cy="254.4" r="1.9" fill="#fff"/>
<circle cx="95.7" cy="245.7" r="1.0" fill="#fff"/>
<circle cx="141.6" cy="269.7" r="2.1" fill="#fff"/>
<circle cx="137.9" cy="266.2" r="1.1" fill="#fff"/>
<circle cx="151.7" cy="272.0" r="2.1" fill="#fff"/>
<circle cx="118.1" cy="280.3" r="1.9" fill="#fff"/>
<circle cx="114.4" cy="276.6" r="1.1" fill="#fff"/>
<circle cx="81.9" cy="277.1" r="1.3" fill="#fff"/>
<circle cx="77.9" cy="274.5" r="0.9" fill="#fff"/>
<circle cx="114.9" cy="305.2" r="1.9" fill="#fff"/>
<circle cx="131.2" cy="311.8" r="1.9" fill="#fff"/>
<circle cx="87.9" cy="331.8" r="1.9" fill="#fff"/>
<circle cx="121.3" cy="347.5" r="1.9" fill="#fff"/>
<circle cx="117.6" cy="343.3" r="1.0" fill="#fff"/>
<circle cx="78.7" cy="360.0" r="1.9" fill="#fff"/>
<circle cx="73.0" cy="363.3" r="0.9" fill="#fff"/>
<circle cx="77.1" cy="366.2" r="1.3" fill="#fff"/>
<circle cx="75.8" cy="323.2" r="0.9" fill="#fff"/></g>
<g id="Rlung" transform="translate(362.4,0) scale(-1,1)"><path d="M153.8,181.6C150.2,181.5 145.0,183.4 140.0,185.5C135.0,187.5 129.3,190.6 124.0,194.2C118.7,197.8 113.3,201.7 108.0,207.0C102.7,212.3 96.8,219.1 92.0,226.2C87.2,233.3 82.6,242.2 79.2,249.7C75.8,257.1 74.0,264.4 71.7,271.0C69.5,277.5 67.1,282.3 65.9,288.9C64.7,295.4 64.8,303.3 64.6,310.2C64.4,317.1 64.3,323.9 64.5,330.5C64.6,337.0 64.9,343.3 65.5,349.7C66.2,356.0 67.0,363.5 68.3,368.8C69.7,374.2 71.5,378.4 73.7,381.6C75.8,384.8 78.3,387.7 81.3,388.0C84.4,388.4 86.7,386.8 92.0,384.0C97.3,381.2 106.2,375.3 113.3,371.2C120.4,367.1 128.4,363.2 134.7,359.5C140.9,355.7 147.0,352.0 150.6,348.8C154.3,345.6 155.4,343.8 156.5,340.1C157.7,336.3 157.3,331.7 157.6,326.2C157.9,320.7 157.8,313.7 158.3,307.0C158.8,300.2 159.3,292.9 160.5,285.7C161.6,278.4 164.0,270.6 165.0,263.5C166.1,256.4 166.3,250.5 166.6,243.3C166.9,236.0 167.0,227.3 166.9,219.8C166.7,212.3 166.4,204.1 165.6,198.5C164.7,192.9 163.8,189.0 161.8,186.2C159.9,183.4 157.5,181.7 153.8,181.6Z" fill="#bb504c" transform="translate(-1.6,2.2)"/>
<path d="M153.8,181.6C150.2,181.5 145.0,183.4 140.0,185.5C135.0,187.5 129.3,190.6 124.0,194.2C118.7,197.8 113.3,201.7 108.0,207.0C102.7,212.3 96.8,219.1 92.0,226.2C87.2,233.3 82.6,242.2 79.2,249.7C75.8,257.1 74.0,264.4 71.7,271.0C69.5,277.5 67.1,282.3 65.9,288.9C64.7,295.4 64.8,303.3 64.6,310.2C64.4,317.1 64.3,323.9 64.5,330.5C64.6,337.0 64.9,343.3 65.5,349.7C66.2,356.0 67.0,363.5 68.3,368.8C69.7,374.2 71.5,378.4 73.7,381.6C75.8,384.8 78.3,387.7 81.3,388.0C84.4,388.4 86.7,386.8 92.0,384.0C97.3,381.2 106.2,375.3 113.3,371.2C120.4,367.1 128.4,363.2 134.7,359.5C140.9,355.7 147.0,352.0 150.6,348.8C154.3,345.6 155.4,343.8 156.5,340.1C157.7,336.3 157.3,331.7 157.6,326.2C157.9,320.7 157.8,313.7 158.3,307.0C158.8,300.2 159.3,292.9 160.5,285.7C161.6,278.4 164.0,270.6 165.0,263.5C166.1,256.4 166.3,250.5 166.6,243.3C166.9,236.0 167.0,227.3 166.9,219.8C166.7,212.3 166.4,204.1 165.6,198.5C164.7,192.9 163.8,189.0 161.8,186.2C159.9,183.4 157.5,181.7 153.8,181.6Z" fill="#a7271c"/>
<path d="M135.4,261.2 L134.7,262.1 L133.7,263.4 L132.5,265.0 L131.2,266.8 L129.9,268.7 L128.6,270.6 L127.6,272.6 L126.7,274.5 L126.0,276.4 L125.4,278.0 L124.9,279.3 L124.6,280.2 L137.3,285.3 L137.7,284.3 L138.2,283.0 L138.8,281.6 L139.4,280.1 L140.1,278.8 L140.7,277.7 L141.4,276.6 L142.5,275.2 L143.7,273.7 L144.8,272.3 L145.9,271.0 L146.7,270.1Z M124.6,279.9 L124.3,281.0 L123.7,282.5 L123.0,284.6 L122.3,287.0 L121.7,289.6 L121.3,292.3 L121.3,294.9 L121.4,297.4 L121.7,299.9 L122.2,302.4 L122.8,304.8 L123.5,307.2 L124.4,309.6 L125.5,311.9 L126.7,314.0 L127.9,316.1 L129.1,317.9 L130.2,319.6 L131.3,321.2 L132.5,322.6 L133.5,323.8 L134.5,324.8 L135.2,325.7 L135.8,326.5 L136.3,327.5 L136.9,328.7 L137.3,330.0 L137.7,331.3 L138.0,332.4 L138.3,333.2 L143.4,332.0 L143.2,331.2 L143.1,330.1 L142.9,328.6 L142.6,327.1 L142.2,325.4 L141.6,323.7 L140.8,322.2 L140.0,320.8 L139.1,319.5 L138.4,318.3 L137.7,317.1 L137.0,315.7 L136.2,314.0 L135.4,312.1 L134.6,310.2 L133.9,308.3 L133.4,306.4 L133.0,304.6 L132.8,302.8 L132.6,300.9 L132.6,299.0 L132.6,297.1 L132.8,295.4 L133.1,293.9 L133.5,292.6 L134.1,291.1 L135.0,289.4 L135.8,287.8 L136.7,286.2 L137.2,285.0Z M138.0,330.7 L138.2,331.5 L138.4,332.6 L138.7,333.9 L139.0,335.4 L139.4,336.9 L139.9,338.3 L140.5,339.6 L141.3,341.0 L142.1,342.2 L142.9,343.4 L143.5,344.4 L144.0,345.1 L144.9,344.6 L144.6,343.8 L144.1,342.7 L143.6,341.5 L143.0,340.1 L142.6,338.8 L142.2,337.6 L142.1,336.3 L142.0,335.0 L141.9,333.6 L141.9,332.2 L141.9,331.1 L141.9,330.2Z M136.6,326.6 L136.2,327.6 L135.9,329.1 L135.4,330.7 L134.8,332.5 L134.2,334.2 L133.6,335.7 L132.8,337.1 L131.7,338.6 L130.6,340.1 L129.5,341.4 L128.5,342.6 L127.9,343.4 L128.6,344.1 L129.4,343.4 L130.5,342.4 L131.8,341.2 L133.2,339.8 L134.6,338.4 L135.7,337.0 L136.7,335.4 L137.6,333.7 L138.4,331.9 L139.2,330.3 L139.8,328.9 L140.2,327.9Z M136.0,334.6 L136.0,335.6 L135.9,337.0 L135.9,338.6 L135.8,340.3 L135.7,341.8 L135.6,343.1 L135.4,344.1 L135.2,345.1 L134.9,346.0 L134.6,346.7 L134.4,347.4 L134.2,347.9 L135.1,348.2 L135.3,347.8 L135.6,347.2 L136.0,346.4 L136.4,345.5 L136.8,344.5 L137.1,343.4 L137.4,342.1 L137.7,340.5 L138.0,338.8 L138.3,337.2 L138.5,335.8 L138.6,334.8Z M138.3,326.8 L139.1,327.3 L140.1,327.9 L141.4,328.7 L142.7,329.5 L143.8,330.3 L144.7,331.0 L145.3,331.7 L145.8,332.6 L146.3,333.4 L146.7,334.2 L147.0,334.9 L147.2,335.4 L148.1,335.1 L147.9,334.5 L147.7,333.8 L147.5,332.9 L147.1,331.9 L146.6,330.9 L146.0,329.9 L145.1,328.9 L144.0,327.8 L142.8,326.8 L141.6,325.9 L140.6,325.1 L140.0,324.5Z M123.9,292.9 L123.2,293.6 L122.2,294.5 L121.1,295.7 L119.8,296.9 L118.5,298.3 L117.2,299.5 L116.0,300.8 L114.6,302.1 L113.1,303.4 L111.7,304.9 L110.3,306.6 L109.1,308.4 L108.2,310.2 L107.5,312.1 L107.0,314.0 L106.6,315.8 L106.3,317.6 L106.0,319.3 L105.6,321.0 L105.2,322.8 L104.8,324.7 L104.5,326.6 L104.3,328.5 L104.2,330.4 L104.3,332.3 L104.4,334.2 L104.7,336.0 L105.1,337.8 L105.4,339.5 L105.7,341.3 L105.9,343.1 L106.2,344.9 L106.5,346.7 L106.8,348.4 L107.0,350.2 L107.1,351.8 L107.1,353.4 L107.0,355.2 L106.9,356.9 L106.7,358.5 L106.5,359.8 L106.4,360.8 L107.4,360.9 L107.6,360.0 L107.9,358.7 L108.2,357.1 L108.5,355.3 L108.7,353.5 L108.9,351.8 L108.9,350.0 L108.8,348.3 L108.6,346.4 L108.5,344.6 L108.3,342.8 L108.2,341.0 L108.0,339.2 L107.8,337.4 L107.6,335.6 L107.5,333.9 L107.4,332.2 L107.5,330.5 L107.7,328.9 L108.1,327.2 L108.5,325.5 L109.0,323.8 L109.5,322.0 L110.0,320.3 L110.5,318.5 L111.0,316.8 L111.4,315.2 L111.9,313.6 L112.6,312.2 L113.3,311.0 L114.2,309.8 L115.4,308.6 L116.8,307.4 L118.2,306.2 L119.7,305.0 L121.2,303.8 L122.5,302.6 L123.9,301.4 L125.2,300.3 L126.5,299.2 L127.5,298.3 L128.3,297.7Z M105.6,335.4 L106.3,336.4 L107.3,337.7 L108.4,339.2 L109.6,340.7 L110.7,342.3 L111.5,343.6 L112.2,344.9 L112.7,346.2 L113.2,347.4 L113.6,348.6 L113.9,349.6 L114.1,350.3 L115.1,350.0 L114.9,349.3 L114.7,348.3 L114.4,347.1 L114.0,345.7 L113.6,344.3 L113.0,342.9 L112.2,341.4 L111.3,339.7 L110.2,337.9 L109.2,336.3 L108.4,335.0 L107.8,334.0Z M107.4,322.8 L108.0,323.2 L108.9,323.7 L109.9,324.4 L111.0,325.1 L111.9,325.8 L112.5,326.4 L113.0,327.1 L113.3,327.9 L113.6,328.7 L113.8,329.5 L114.0,330.3 L114.1,330.8 L115.1,330.6 L115.0,330.0 L114.9,329.3 L114.7,328.4 L114.5,327.5 L114.2,326.5 L113.7,325.5 L112.9,324.7 L112.0,323.8 L111.0,322.9 L110.0,322.2 L109.2,321.5 L108.6,321.1Z M116.7,299.4 L117.1,300.6 L117.6,302.3 L118.2,304.3 L118.8,306.5 L119.4,308.6 L119.9,310.4 L120.4,312.1 L120.8,313.8 L121.2,315.5 L121.6,317.1 L122.0,318.6 L122.3,320.0 L122.7,321.3 L123.1,322.5 L123.5,323.7 L123.8,324.8 L124.3,325.8 L124.7,326.7 L125.3,327.5 L126.0,328.2 L126.6,328.8 L127.3,329.3 L127.8,329.7 L128.2,330.0 L128.8,329.2 L128.4,328.9 L127.9,328.5 L127.3,328.0 L126.8,327.4 L126.2,326.8 L125.8,326.1 L125.4,325.3 L125.1,324.3 L124.8,323.3 L124.5,322.1 L124.2,320.9 L123.9,319.6 L123.6,318.2 L123.3,316.7 L123.0,315.1 L122.7,313.4 L122.4,311.7 L122.1,309.9 L121.6,308.0 L121.2,305.9 L120.7,303.7 L120.2,301.6 L119.8,299.9 L119.5,298.6Z M121.7,317.5 L121.6,318.4 L121.4,319.5 L121.2,320.9 L121.0,322.4 L120.9,323.8 L120.8,325.1 L120.9,326.3 L121.1,327.4 L121.4,328.5 L121.6,329.4 L121.9,330.2 L122.0,330.8 L123.0,330.6 L122.8,330.0 L122.6,329.2 L122.4,328.2 L122.2,327.2 L122.1,326.2 L122.0,325.1 L122.1,324.0 L122.3,322.6 L122.6,321.2 L122.9,319.8 L123.1,318.6 L123.3,317.8Z M115.0,297.6 L113.8,297.9 L112.2,298.3 L110.3,298.7 L108.4,299.2 L106.4,299.5 L104.7,299.7 L103.2,299.8 L101.7,299.7 L100.1,299.5 L98.5,299.4 L96.9,299.2 L95.3,299.2 L93.7,299.2 L92.3,299.2 L90.8,299.3 L89.4,299.5 L87.9,299.8 L86.4,300.2 L84.8,300.8 L83.1,301.6 L81.4,302.5 L79.9,303.3 L78.6,304.1 L77.7,304.6 L78.1,305.5 L79.1,305.1 L80.5,304.5 L82.1,303.8 L83.8,303.1 L85.4,302.5 L86.9,302.1 L88.3,301.9 L89.6,301.8 L90.9,301.8 L92.3,301.8 L93.7,301.9 L95.1,302.0 L96.6,302.2 L98.0,302.5 L99.6,302.8 L101.2,303.2 L103.0,303.5 L104.8,303.6 L106.8,303.5 L109.0,303.4 L111.1,303.1 L113.1,302.9 L114.7,302.6 L115.9,302.5Z M102.4,301.0 L101.5,301.5 L100.3,302.2 L98.9,303.1 L97.4,304.0 L95.9,304.9 L94.5,305.8 L93.2,306.7 L91.9,307.7 L90.6,308.6 L89.4,309.6 L88.2,310.5 L87.1,311.5 L86.0,312.4 L84.9,313.4 L83.9,314.3 L82.9,315.3 L81.9,316.2 L80.9,317.0 L79.7,317.9 L78.5,318.8 L77.3,319.7 L76.1,320.5 L75.1,321.2 L74.4,321.7 L75.0,322.6 L75.7,322.1 L76.8,321.5 L78.0,320.8 L79.3,320.0 L80.6,319.1 L81.8,318.3 L82.9,317.5 L84.0,316.6 L85.1,315.7 L86.2,314.9 L87.3,314.0 L88.4,313.2 L89.6,312.3 L90.8,311.5 L92.1,310.6 L93.4,309.8 L94.6,308.9 L95.9,308.2 L97.3,307.4 L98.8,306.6 L100.4,305.8 L101.9,305.1 L103.1,304.5 L104.0,304.0Z M80.8,317.6 L81.0,318.6 L81.3,320.2 L81.7,322.0 L82.0,323.8 L82.3,325.4 L82.6,326.5 L83.5,326.3 L83.4,325.2 L83.2,323.7 L82.9,321.8 L82.7,320.0 L82.5,318.4 L82.3,317.3Z M94.3,307.0 L94.3,308.2 L94.3,310.0 L94.3,312.1 L94.3,314.2 L94.2,316.1 L94.2,317.6 L94.1,318.6 L94.0,319.4 L93.9,319.9 L93.8,320.3 L93.7,320.7 L93.7,321.0 L94.6,321.2 L94.7,320.9 L94.8,320.6 L94.9,320.2 L95.1,319.6 L95.2,318.8 L95.4,317.7 L95.5,316.2 L95.6,314.3 L95.8,312.1 L95.9,310.1 L96.0,308.3 L96.1,307.0Z M85.3,300.9 L85.2,300.6 L84.9,300.2 L84.6,299.7 L84.3,299.2 L84.1,298.8 L83.9,298.5 L83.0,298.9 L83.2,299.2 L83.4,299.7 L83.6,300.2 L83.8,300.7 L84.0,301.2 L84.2,301.5Z M106.5,319.0 L105.7,320.5 L104.7,322.6 L103.5,325.1 L102.2,327.6 L100.8,329.9 L99.6,331.8 L98.4,333.2 L97.2,334.4 L95.9,335.4 L94.6,336.3 L93.1,337.2 L91.5,338.2 L89.7,339.3 L87.5,340.4 L85.2,341.5 L83.0,342.6 L81.2,343.4 L79.8,344.1 L80.3,345.0 L81.6,344.5 L83.5,343.7 L85.8,342.8 L88.2,341.8 L90.4,340.8 L92.4,339.8 L94.1,338.9 L95.7,338.0 L97.2,337.1 L98.6,336.1 L100.0,334.9 L101.5,333.4 L103.0,331.4 L104.6,329.0 L106.1,326.5 L107.5,324.1 L108.6,322.0 L109.5,320.6Z M95.2,335.8 L95.4,337.1 L95.7,338.8 L96.1,340.9 L96.5,343.1 L96.6,345.3 L96.6,347.4 L96.2,349.5 L95.6,351.8 L94.8,354.2 L94.0,356.5 L93.3,358.5 L92.7,360.1 L92.4,361.3 L92.1,362.1 L91.9,362.6 L91.8,363.0 L91.6,363.3 L91.5,363.6 L92.4,363.9 L92.5,363.7 L92.7,363.4 L92.8,363.0 L93.1,362.5 L93.4,361.6 L93.8,360.5 L94.5,358.9 L95.3,357.0 L96.3,354.7 L97.2,352.3 L98.0,349.9 L98.5,347.6 L98.7,345.3 L98.6,342.9 L98.4,340.6 L98.1,338.4 L97.9,336.7 L97.8,335.4Z M96.8,347.5 L96.8,348.8 L96.8,350.7 L96.9,353.0 L97.0,355.2 L97.0,357.1 L97.1,358.4 L98.0,358.4 L98.1,357.1 L98.1,355.2 L98.2,353.0 L98.2,350.7 L98.3,348.8 L98.3,347.5Z M127.5,274.9 L125.9,275.4 L123.6,276.2 L120.9,277.1 L118.1,278.0 L115.3,278.9 L112.8,279.7 L110.6,280.4 L108.5,281.0 L106.4,281.6 L104.4,282.2 L102.3,282.8 L100.2,283.4 L97.9,284.1 L95.5,284.8 L93.2,285.5 L90.8,286.2 L88.6,286.7 L86.6,287.1 L84.6,287.3 L82.5,287.3 L80.5,287.1 L78.7,286.9 L77.2,286.8 L76.1,286.7 L75.9,287.7 L77.0,287.9 L78.6,288.2 L80.4,288.5 L82.4,288.8 L84.6,289.0 L86.7,289.0 L89.0,288.7 L91.3,288.4 L93.8,287.9 L96.2,287.3 L98.6,286.8 L100.9,286.3 L103.1,285.9 L105.2,285.4 L107.3,285.0 L109.4,284.6 L111.6,284.1 L113.8,283.6 L116.4,283.0 L119.3,282.3 L122.2,281.6 L125.0,280.9 L127.3,280.3 L129.0,279.9Z M101.7,283.8 L100.7,282.7 L99.2,281.2 L97.6,279.5 L95.9,277.5 L94.3,275.6 L93.0,273.6 L92.0,271.6 L91.1,269.3 L90.3,266.9 L89.6,264.5 L89.0,262.3 L88.5,260.2 L88.1,258.2 L87.9,256.3 L87.8,254.5 L87.7,252.9 L87.7,251.5 L87.7,250.5 L86.7,250.5 L86.7,251.5 L86.6,252.9 L86.6,254.6 L86.6,256.4 L86.7,258.4 L87.0,260.5 L87.4,262.6 L87.9,265.0 L88.4,267.5 L89.1,270.0 L90.0,272.4 L91.0,274.7 L92.2,277.0 L93.8,279.2 L95.5,281.3 L97.1,283.2 L98.4,284.7 L99.3,285.9Z M94.4,276.6 L93.7,276.4 L92.7,276.1 L91.5,275.7 L90.2,275.3 L89.0,275.0 L87.9,274.7 L86.8,274.4 L85.8,274.2 L84.8,274.1 L83.8,273.9 L83.0,273.8 L82.5,273.7 L82.3,274.7 L82.9,274.8 L83.6,274.9 L84.6,275.1 L85.6,275.3 L86.6,275.6 L87.6,275.8 L88.6,276.2 L89.8,276.6 L91.0,277.0 L92.2,277.5 L93.2,277.9 L93.9,278.1Z M91.5,268.3 L90.9,267.6 L89.9,266.5 L88.7,265.2 L87.6,264.0 L86.6,262.9 L86.0,262.1 L85.2,262.8 L85.8,263.5 L86.7,264.7 L87.8,266.1 L88.8,267.4 L89.7,268.6 L90.3,269.3Z M86.2,287.4 L85.6,287.8 L84.8,288.4 L83.9,289.0 L82.9,289.7 L81.9,290.3 L81.1,290.7 L80.4,290.9 L79.6,291.0 L78.9,291.0 L78.2,291.0 L77.5,291.0 L77.1,291.0 L77.1,291.9 L77.5,292.0 L78.1,292.0 L78.9,292.1 L79.7,292.1 L80.6,292.0 L81.5,291.8 L82.5,291.4 L83.6,290.8 L84.6,290.2 L85.6,289.6 L86.5,289.1 L87.1,288.7Z M97.9,284.7 L97.3,283.9 L96.4,282.8 L95.4,281.4 L94.3,280.1 L93.3,278.8 L92.4,277.8 L91.7,277.0 L91.0,276.4 L90.4,275.8 L89.9,275.3 L89.4,274.9 L89.1,274.7 L88.5,275.3 L88.8,275.7 L89.2,276.1 L89.7,276.5 L90.3,277.1 L90.9,277.8 L91.5,278.6 L92.3,279.6 L93.3,280.9 L94.3,282.3 L95.3,283.6 L96.1,284.8 L96.7,285.6Z M131.7,267.4 L130.5,266.4 L128.8,264.9 L126.7,263.1 L124.5,261.2 L122.4,259.6 L120.4,258.3 L118.7,257.5 L117.2,256.9 L115.7,256.6 L114.3,256.4 L112.8,256.3 L111.3,256.1 L109.5,256.1 L107.4,256.1 L105.3,256.2 L103.3,256.4 L101.7,256.5 L100.5,256.6 L100.5,257.6 L101.7,257.7 L103.4,257.7 L105.3,257.7 L107.4,257.8 L109.4,257.9 L111.1,258.1 L112.6,258.3 L113.9,258.5 L115.2,258.8 L116.4,259.2 L117.7,259.8 L119.0,260.6 L120.6,261.9 L122.5,263.6 L124.4,265.5 L126.3,267.4 L127.9,269.1 L129.1,270.3Z M116.6,257.0 L116.2,256.3 L115.5,255.4 L114.7,254.2 L113.8,253.1 L112.8,251.9 L111.8,251.0 L110.7,250.4 L109.6,250.0 L108.5,249.7 L107.3,249.4 L106.2,249.2 L105.0,248.9 L103.6,248.6 L101.9,248.2 L100.3,247.9 L98.7,247.5 L97.3,247.3 L96.4,247.1 L96.1,248.0 L97.1,248.2 L98.4,248.6 L100.0,249.0 L101.6,249.5 L103.2,249.9 L104.6,250.4 L105.8,250.7 L107.0,251.0 L108.0,251.3 L109.0,251.6 L109.8,252.0 L110.6,252.5 L111.4,253.3 L112.2,254.3 L112.9,255.5 L113.6,256.6 L114.2,257.6 L114.7,258.3Z M107.5,250.0 L106.9,249.3 L106.0,248.3 L105.0,247.2 L103.9,246.0 L102.8,244.9 L102.0,244.1 L101.2,243.6 L100.5,243.2 L99.8,243.0 L99.2,242.9 L98.8,242.9 L98.5,242.8 L98.3,243.7 L98.6,243.8 L99.0,243.9 L99.5,244.0 L100.0,244.2 L100.6,244.5 L101.2,245.0 L102.0,245.7 L102.9,246.8 L103.9,248.0 L104.9,249.2 L105.7,250.3 L106.3,251.0Z M119.3,259.5 L118.6,259.9 L117.6,260.5 L116.5,261.2 L115.3,261.9 L114.1,262.5 L113.0,263.1 L112.0,263.6 L110.8,264.0 L109.6,264.5 L108.4,264.8 L107.5,265.2 L106.8,265.4 L107.1,266.3 L107.8,266.1 L108.7,265.9 L109.9,265.6 L111.1,265.2 L112.4,264.8 L113.6,264.4 L114.8,263.8 L116.1,263.2 L117.3,262.6 L118.5,262.0 L119.5,261.5 L120.2,261.1Z M136.7,265.0 L135.6,264.1 L134.1,262.8 L132.3,261.4 L130.5,259.9 L128.9,258.4 L127.7,257.0 L126.8,255.7 L126.0,254.3 L125.3,252.8 L124.7,251.2 L124.0,249.6 L123.3,248.0 L122.6,246.4 L121.9,244.8 L121.2,243.1 L120.4,241.5 L119.6,239.9 L118.6,238.3 L117.6,236.9 L116.5,235.5 L115.3,234.2 L114.1,233.0 L112.9,231.9 L111.8,230.8 L110.6,229.9 L109.4,229.1 L108.2,228.4 L107.1,227.8 L106.0,227.3 L105.1,226.9 L104.2,226.5 L103.4,226.3 L102.6,226.1 L102.0,226.0 L101.5,226.0 L101.2,225.9 L100.9,226.9 L101.3,227.0 L101.8,227.1 L102.4,227.2 L103.0,227.4 L103.7,227.7 L104.5,228.1 L105.4,228.5 L106.4,229.1 L107.4,229.8 L108.5,230.5 L109.6,231.3 L110.6,232.2 L111.6,233.2 L112.7,234.4 L113.7,235.6 L114.7,236.9 L115.7,238.3 L116.5,239.6 L117.3,241.1 L117.9,242.6 L118.6,244.2 L119.2,245.8 L119.8,247.5 L120.4,249.2 L121.0,250.8 L121.5,252.4 L122.1,254.1 L122.7,255.8 L123.5,257.6 L124.6,259.3 L126.0,261.1 L127.7,262.9 L129.5,264.7 L131.2,266.2 L132.6,267.5 L133.6,268.5Z M120.5,244.7 L121.0,243.6 L121.8,242.1 L122.6,240.3 L123.5,238.3 L124.2,236.5 L124.6,234.9 L124.7,233.4 L124.6,232.0 L124.4,230.8 L124.0,229.7 L123.8,228.9 L123.6,228.2 L122.7,228.4 L122.8,229.1 L123.0,230.0 L123.3,231.0 L123.5,232.2 L123.5,233.4 L123.4,234.6 L122.9,236.0 L122.1,237.7 L121.2,239.6 L120.3,241.3 L119.5,242.8 L118.9,243.9Z M124.7,244.9 L125.0,244.2 L125.6,243.2 L126.2,242.0 L126.9,240.8 L127.4,239.7 L127.8,239.0 L127.0,238.5 L126.5,239.2 L125.9,240.2 L125.2,241.3 L124.4,242.5 L123.8,243.5 L123.3,244.1Z M114.4,233.5 L114.2,232.6 L114.1,231.2 L113.9,229.6 L113.6,227.9 L113.3,226.3 L113.0,224.9 L112.6,223.8 L112.1,222.7 L111.5,221.8 L111.0,220.9 L110.5,220.2 L110.1,219.5 L109.7,218.9 L109.4,218.3 L109.1,217.9 L108.8,217.4 L108.6,217.1 L108.4,216.9 L107.6,217.4 L107.7,217.6 L107.9,218.0 L108.2,218.4 L108.5,218.9 L108.8,219.4 L109.1,220.1 L109.5,220.8 L109.9,221.6 L110.4,222.4 L110.8,223.3 L111.2,224.3 L111.5,225.3 L111.7,226.6 L111.9,228.2 L112.0,229.8 L112.1,231.4 L112.2,232.8 L112.3,233.8Z M109.9,221.6 L110.3,221.7 L110.9,221.9 L111.6,222.1 L112.2,222.3 L112.8,222.5 L113.2,222.6 L113.5,221.7 L113.1,221.5 L112.5,221.3 L111.9,221.1 L111.2,220.9 L110.7,220.7 L110.3,220.5Z M106.3,228.1 L105.8,228.8 L105.0,229.9 L104.2,231.1 L103.3,232.4 L102.6,233.5 L102.1,234.5 L102.0,235.4 L102.2,236.1 L102.5,236.6 L102.9,237.0 L103.2,237.2 L103.4,237.4 L104.1,236.8 L103.9,236.5 L103.6,236.2 L103.3,236.0 L103.1,235.7 L103.1,235.4 L103.2,234.9 L103.6,234.1 L104.4,233.1 L105.3,231.9 L106.2,230.7 L107.0,229.7 L107.6,229.0Z M149.1,259.2 L148.6,258.1 L148.1,256.5 L147.4,254.6 L146.6,252.6 L145.9,250.6 L145.2,248.7 L144.6,247.0 L144.0,245.3 L143.4,243.5 L142.8,241.7 L142.1,239.9 L141.4,238.1 L140.6,236.4 L139.9,234.7 L139.1,232.9 L138.3,231.2 L137.4,229.4 L136.4,227.5 L135.3,225.5 L134.1,223.3 L132.9,221.1 L131.6,218.9 L130.4,216.9 L129.2,215.0 L128.1,213.3 L126.9,211.6 L125.8,210.0 L124.8,208.7 L124.0,207.6 L123.4,206.7 L122.5,207.3 L123.0,208.2 L123.7,209.4 L124.5,210.9 L125.5,212.5 L126.4,214.3 L127.3,216.1 L128.2,218.0 L129.2,220.2 L130.2,222.5 L131.1,224.8 L132.1,227.0 L132.9,229.1 L133.6,231.0 L134.3,232.9 L134.9,234.6 L135.4,236.4 L135.9,238.1 L136.5,239.8 L136.9,241.6 L137.4,243.4 L137.8,245.1 L138.2,246.9 L138.6,248.7 L139.0,250.6 L139.5,252.5 L140.0,254.6 L140.4,256.7 L140.9,258.6 L141.3,260.3 L141.6,261.4Z M131.3,219.7 L131.1,218.7 L130.9,217.4 L130.6,215.8 L130.3,214.2 L130.1,212.6 L130.0,211.3 L130.0,210.1 L130.2,208.9 L130.4,207.8 L130.7,206.7 L130.9,205.9 L131.1,205.2 L130.1,205.0 L130.0,205.6 L129.7,206.4 L129.4,207.5 L129.0,208.7 L128.8,209.9 L128.7,211.2 L128.7,212.7 L128.8,214.3 L129.0,216.0 L129.2,217.6 L129.4,219.0 L129.5,219.9Z M126.6,211.1 L126.1,210.4 L125.3,209.5 L124.4,208.4 L123.5,207.2 L122.8,206.3 L122.2,205.6 L121.5,206.2 L122.0,206.9 L122.7,207.9 L123.5,209.0 L124.4,210.2 L125.1,211.2 L125.6,211.9Z M144.3,248.9 L144.4,247.8 L144.6,246.3 L144.8,244.5 L145.1,242.7 L145.4,240.9 L145.8,239.6 L146.2,238.5 L146.8,237.5 L147.5,236.5 L148.3,235.5 L149.0,234.4 L149.7,233.3 L150.3,232.2 L150.8,231.1 L151.3,230.1 L151.7,228.9 L152.1,227.7 L152.3,226.3 L152.4,224.9 L152.3,223.4 L152.2,221.9 L151.9,220.4 L151.7,218.9 L151.5,217.6 L151.3,216.2 L151.1,214.9 L150.9,213.5 L150.6,212.3 L150.4,211.1 L150.2,210.1 L150.0,209.1 L149.7,208.3 L149.5,207.6 L149.3,206.9 L149.1,206.4 L149.0,206.0 L148.1,206.3 L148.2,206.7 L148.3,207.2 L148.5,207.8 L148.6,208.6 L148.8,209.4 L149.0,210.3 L149.1,211.3 L149.3,212.5 L149.4,213.8 L149.6,215.1 L149.7,216.4 L149.8,217.8 L149.9,219.1 L150.0,220.6 L150.1,222.1 L150.2,223.5 L150.2,224.8 L150.0,226.0 L149.8,227.1 L149.4,228.1 L149.0,229.0 L148.5,229.9 L147.9,230.9 L147.3,231.9 L146.7,232.8 L146.0,233.7 L145.2,234.7 L144.3,235.7 L143.5,237.0 L142.7,238.4 L142.1,240.1 L141.7,242.0 L141.2,243.9 L140.9,245.7 L140.6,247.2 L140.4,248.3Z M150.8,222.6 L150.3,222.4 L149.6,222.2 L148.7,222.0 L147.8,221.8 L147.0,221.6 L146.5,221.5 L146.2,222.4 L146.8,222.6 L147.5,222.8 L148.4,223.1 L149.2,223.4 L150.0,223.7 L150.5,223.8Z M151.3,216.2 L151.7,215.6 L152.4,214.7 L153.3,213.7 L154.1,212.5 L154.8,211.4 L155.4,210.5 L155.8,209.6 L156.1,208.7 L156.2,207.9 L156.3,207.2 L156.4,206.6 L156.5,206.2 L155.5,206.1 L155.4,206.5 L155.3,207.1 L155.2,207.7 L155.0,208.4 L154.8,209.2 L154.4,209.9 L153.8,210.7 L153.0,211.7 L152.2,212.8 L151.3,213.8 L150.6,214.6 L150.0,215.2Z M150.7,210.7 L151.0,209.9 L151.5,208.7 L152.0,207.4 L152.5,206.1 L152.9,205.0 L153.2,204.2 L152.3,203.8 L152.0,204.6 L151.5,205.7 L150.9,207.0 L150.4,208.3 L149.9,209.4 L149.5,210.2Z M140.4,240.1 L140.4,238.5 L140.4,236.4 L140.4,233.8 L140.4,231.1 L140.4,228.5 L140.5,226.3 L140.6,224.3 L140.8,222.5 L141.0,220.8 L141.3,219.1 L141.5,217.4 L141.9,215.7 L142.3,213.9 L142.8,212.2 L143.3,210.4 L143.8,208.6 L144.3,206.8 L144.9,205.1 L145.4,203.3 L146.1,201.4 L146.7,199.6 L147.3,197.9 L147.8,196.5 L148.1,195.4 L147.2,195.1 L146.8,196.1 L146.3,197.5 L145.6,199.2 L144.9,201.0 L144.3,202.9 L143.6,204.7 L143.0,206.4 L142.4,208.1 L141.8,209.9 L141.2,211.7 L140.7,213.5 L140.2,215.3 L139.8,217.1 L139.4,218.8 L139.1,220.5 L138.9,222.3 L138.6,224.1 L138.4,226.1 L138.2,228.4 L138.1,231.1 L138.0,233.8 L137.9,236.3 L137.9,238.5 L137.8,240.0Z M146.8,198.3 L147.2,197.9 L147.6,197.2 L148.2,196.5 L148.7,195.8 L149.2,195.1 L149.5,194.7 L148.8,194.1 L148.4,194.5 L147.9,195.1 L147.3,195.8 L146.8,196.5 L146.3,197.2 L145.9,197.6Z M144.1,206.6 L143.8,206.3 L143.3,205.8 L142.8,205.3 L142.2,204.8 L141.7,204.3 L141.4,204.0 L140.7,204.7 L141.0,205.0 L141.5,205.5 L142.0,206.0 L142.5,206.6 L143.0,207.1 L143.3,207.4Z M136.4,278.2 L137.1,279.5 L138.1,281.3 L139.2,283.5 L140.4,285.7 L141.6,287.8 L142.6,289.7 L143.6,291.2 L144.5,292.5 L145.3,293.6 L146.1,294.6 L146.8,295.6 L147.4,296.8 L148.0,298.1 L148.6,299.7 L149.2,301.4 L149.6,302.9 L150.1,304.2 L150.4,305.2 L151.4,305.0 L151.2,304.0 L151.0,302.6 L150.7,301.0 L150.4,299.2 L150.1,297.5 L149.6,295.9 L149.1,294.5 L148.5,293.2 L147.8,292.0 L147.2,290.8 L146.5,289.5 L145.9,288.0 L145.1,286.2 L144.3,284.0 L143.4,281.6 L142.6,279.3 L141.9,277.4 L141.4,276.0Z M145.6,286.5 L146.3,286.2 L147.4,285.8 L148.6,285.3 L149.8,284.8 L150.8,284.5 L151.5,284.4 L151.6,284.4 L151.7,284.5 L151.8,284.9 L151.8,285.3 L151.8,285.8 L151.9,286.1 L152.8,286.0 L152.8,285.8 L152.8,285.3 L152.9,284.7 L152.7,284.1 L152.3,283.5 L151.5,283.1 L150.6,283.2 L149.4,283.5 L148.1,283.8 L146.8,284.2 L145.8,284.6 L145.0,284.8Z M147.0,292.7 L147.7,292.2 L148.8,291.4 L150.0,290.6 L151.3,289.7 L152.3,288.9 L153.0,288.4 L152.5,287.6 L151.8,288.1 L150.6,288.7 L149.3,289.5 L148.0,290.3 L146.9,291.0 L146.2,291.4Z M148.3,297.2 L148.8,297.5 L149.6,298.0 L150.5,298.6 L151.4,299.2 L152.2,299.8 L152.7,300.1 L153.3,299.4 L152.8,298.9 L152.1,298.3 L151.2,297.6 L150.4,296.9 L149.7,296.3 L149.2,295.9Z" fill="#f4c8ad"/>
<circle cx="114.4" cy="217.1" r="4.5" fill="#fff"/>
<circle cx="130.6" cy="246.2" r="4.5" fill="#fff"/>
<circle cx="94.1" cy="294.2" r="4.5" fill="#fff"/>
<circle cx="110.1" cy="323.5" r="4.5" fill="#fff"/>
<circle cx="138.4" cy="202.9" r="1.9" fill="#fff"/>
<circle cx="134.7" cy="199.3" r="1.0" fill="#fff"/>
<circle cx="135.2" cy="228.0" r="2.1" fill="#fff"/>
<circle cx="151.5" cy="234.5" r="2.1" fill="#fff"/>
<circle cx="108.0" cy="254.4" r="1.9" fill="#fff"/>
<circle cx="95.7" cy="245.7" r="1.0" fill="#fff"/>
<circle cx="141.6" cy="269.7" r="2.1" fill="#fff"/>
<circle cx="137.9" cy="266.2" r="1.1" fill="#fff"/>
<circle cx="151.7" cy="272.0" r="2.1" fill="#fff"/>
<circle cx="118.1" cy="280.3" r="1.9" fill="#fff"/>
<circle cx="114.4" cy="276.6" r="1.1" fill="#fff"/>
<circle cx="81.9" cy="277.1" r="1.3" fill="#fff"/>
<circle cx="77.9" cy="274.5" r="0.9" fill="#fff"/>
<circle cx="114.9" cy="305.2" r="1.9" fill="#fff"/>
<circle cx="131.2" cy="311.8" r="1.9" fill="#fff"/>
<circle cx="87.9" cy="331.8" r="1.9" fill="#fff"/>
<circle cx="121.3" cy="347.5" r="1.9" fill="#fff"/>
<circle cx="117.6" cy="343.3" r="1.0" fill="#fff"/>
<circle cx="78.7" cy="360.0" r="1.9" fill="#fff"/>
<circle cx="73.0" cy="363.3" r="0.9" fill="#fff"/>
<circle cx="77.1" cy="366.2" r="1.3" fill="#fff"/>
<circle cx="75.8" cy="323.2" r="0.9" fill="#fff"/></g>
<path d="M174.5,162.0 L174.5,165.9 L174.6,171.4 L174.7,177.8 L174.7,184.6 L174.7,190.9 L174.7,196.3 L174.7,200.7 L174.7,204.6 L174.6,208.2 L174.5,211.4 L174.3,214.2 L174.1,216.9 L173.7,219.2 L173.2,221.3 L172.6,223.1 L172.0,224.9 L171.3,226.6 L170.6,228.2 L170.0,229.4 L169.6,230.3 L169.0,231.1 L168.4,232.0 L167.5,233.2 L166.4,234.8 L165.2,236.6 L163.9,238.5 L162.6,240.4 L161.2,242.4 L159.8,244.3 L158.3,246.0 L156.8,247.7 L155.0,249.4 L153.1,251.1 L151.2,252.8 L149.2,254.5 L147.2,256.2 L145.2,257.9 L143.1,259.6 L140.9,261.3 L138.8,262.9 L137.0,264.2 L135.7,265.2 L142.1,273.6 L143.4,272.6 L145.1,271.3 L147.2,269.7 L149.6,268.0 L151.9,266.2 L154.1,264.4 L156.1,262.7 L158.2,261.0 L160.3,259.2 L162.4,257.3 L164.5,255.3 L166.4,253.3 L168.3,251.1 L170.0,248.9 L171.6,246.7 L173.0,244.6 L174.3,242.7 L175.4,241.1 L176.4,239.8 L177.3,238.6 L178.1,237.4 L179.1,236.1 L180.0,234.5 L180.8,232.7 L181.6,230.9 L182.4,228.9 L183.2,226.7 L184.0,224.2 L184.7,221.5 L185.3,218.5 L185.6,215.3 L185.9,212.0 L186.0,208.5 L186.1,204.8 L186.2,200.8 L186.3,196.4 L186.4,191.0 L186.4,184.6 L186.5,177.8 L186.5,171.4 L186.5,165.9 L186.5,162.0Z" fill="#f4c8ad"/>
<path d="M174.5,162.0 L174.5,165.9 L174.6,171.4 L174.7,177.8 L174.7,184.6 L174.7,190.9 L174.7,196.3 L174.7,200.7 L174.7,204.6 L174.6,208.2 L174.5,211.4 L174.3,214.2 L174.1,216.9 L173.7,219.2 L173.2,221.3 L172.6,223.1 L172.0,224.9 L171.3,226.6 L170.6,228.2 L170.0,229.4 L169.6,230.3 L169.0,231.1 L168.4,232.0 L167.5,233.2 L166.4,234.8 L165.2,236.6 L163.9,238.5 L162.6,240.4 L161.2,242.4 L159.8,244.3 L158.3,246.0 L156.8,247.7 L155.0,249.4 L153.1,251.1 L151.2,252.8 L149.2,254.5 L147.2,256.2 L145.2,257.9 L143.1,259.6 L140.9,261.3 L138.8,262.9 L137.0,264.2 L135.7,265.2 L142.1,273.6 L143.4,272.6 L145.1,271.3 L147.2,269.7 L149.6,268.0 L151.9,266.2 L154.1,264.4 L156.1,262.7 L158.2,261.0 L160.3,259.2 L162.4,257.3 L164.5,255.3 L166.4,253.3 L168.3,251.1 L170.0,248.9 L171.6,246.7 L173.0,244.6 L174.3,242.7 L175.4,241.1 L176.4,239.8 L177.3,238.6 L178.1,237.4 L179.1,236.1 L180.0,234.5 L180.8,232.7 L181.6,230.9 L182.4,228.9 L183.2,226.7 L184.0,224.2 L184.7,221.5 L185.3,218.5 L185.6,215.3 L185.9,212.0 L186.0,208.5 L186.1,204.8 L186.2,200.8 L186.3,196.4 L186.4,191.0 L186.4,184.6 L186.5,177.8 L186.5,171.4 L186.5,165.9 L186.5,162.0Z" fill="#f4c8ad" transform="translate(362.4,0) scale(-1,1)"/>
<path d="M186.4,163.0 L186.4,164.8 L186.4,167.4 L186.4,170.4 L186.4,173.7 L186.4,177.0 L186.5,180.0 L186.5,183.0 L186.5,186.3 L186.5,189.6 L186.5,192.6 L186.5,195.2 L186.5,197.0 L188.1,197.0 L188.1,195.2 L188.1,192.6 L188.1,189.6 L188.1,186.3 L188.1,183.0 L188.2,180.0 L188.2,177.0 L188.2,173.7 L188.2,170.4 L188.2,167.4 L188.2,164.8 L188.2,163.0Z" fill="#a7b3bc"/>
<path d="M186.5,197.0 L186.6,199.1 L186.7,202.1 L186.8,205.7 L187.0,209.4 L187.2,213.0 L187.6,216.1 L188.1,218.8 L188.7,221.4 L189.4,223.8 L190.2,226.0 L191.0,228.2 L191.9,230.3 L192.8,232.2 L193.7,233.9 L194.7,235.5 L195.8,237.0 L197.1,238.6 L198.6,240.4 L200.5,242.4 L203.0,244.7 L205.5,247.0 L208.0,249.2 L210.2,251.1 L211.7,252.4 L212.3,251.6 L210.8,250.3 L208.7,248.4 L206.3,246.2 L203.7,243.9 L201.3,241.6 L199.4,239.6 L198.0,237.9 L196.8,236.3 L195.7,234.8 L194.8,233.3 L193.9,231.6 L193.1,229.7 L192.2,227.7 L191.4,225.6 L190.7,223.4 L190.0,221.0 L189.5,218.5 L189.0,215.9 L188.7,212.8 L188.4,209.3 L188.3,205.6 L188.2,202.1 L188.2,199.1 L188.1,197.0Z" fill="#d3a691"/>
</g></svg>
<svg id="balls" width="1625" height="1125" viewBox="0 0 1625 1125">
<defs>
<radialGradient id="bg1" cx="50%" cy="50%" r="50%"><stop offset="0" stop-color="#d7e2e2"/><stop offset="0.8" stop-color="#d4e0e0"/><stop offset="0.93" stop-color="#ccd8d8"/><stop offset="0.985" stop-color="#bcc8c8"/><stop offset="1" stop-color="#aab6b6"/></radialGradient>
<linearGradient id="hl" x1="0" y1="0" x2="0" y2="1"><stop offset="0" stop-color="#fff" stop-opacity="0.75"/><stop offset="0.25" stop-color="#fff" stop-opacity="0.45"/><stop offset="0.5" stop-color="#fff" stop-opacity="0"/><stop offset="0.75" stop-color="#7a8a8a" stop-opacity="0"/><stop offset="1" stop-color="#7a8a8a" stop-opacity="0.3"/></linearGradient>
<filter id="bsh" x="-20%" y="-20%" width="140%" height="140%"><feGaussianBlur stdDeviation="1.5"/></filter>
<filter id="bhl" x="-20%" y="-20%" width="140%" height="140%"><feGaussianBlur stdDeviation="2.2"/></filter>
</defs>
<ellipse cx="429" cy="486.1" rx="76.7" ry="73.3" fill="#5f6b6b" opacity="0.5" filter="url(#bsh)"/>
<ellipse cx="429" cy="484.1" rx="77.2" ry="73.8" fill="url(#bg1)"/>
<ellipse cx="429" cy="484.1" rx="70.2" ry="66.8" fill="none" stroke="url(#hl)" stroke-width="8" filter="url(#bhl)"/>
<ellipse cx="429" cy="484.1" rx="76.8" ry="73.39999999999999" fill="none" stroke="#929e9e" stroke-opacity="0.6" stroke-width="0.7"/>
<ellipse cx="638.65" cy="485.45" rx="56.75" ry="56.75" fill="#5f6b6b" opacity="0.5" filter="url(#bsh)"/>
<ellipse cx="638.65" cy="483.45" rx="57.25" ry="57.25" fill="url(#bg1)"/>
<ellipse cx="638.65" cy="483.45" rx="50.25" ry="50.25" fill="none" stroke="url(#hl)" stroke-width="8" filter="url(#bhl)"/>
<ellipse cx="638.65" cy="483.45" rx="56.85" ry="56.85" fill="none" stroke="#929e9e" stroke-opacity="0.6" stroke-width="0.7"/>
<ellipse cx="424.45" cy="663.35" rx="67.75" ry="68.35" fill="#5f6b6b" opacity="0.5" filter="url(#bsh)"/>
<ellipse cx="424.45" cy="661.35" rx="68.25" ry="68.85" fill="url(#bg1)"/>
<ellipse cx="424.45" cy="661.35" rx="61.25" ry="61.849999999999994" fill="none" stroke="url(#hl)" stroke-width="8" filter="url(#bhl)"/>
<ellipse cx="424.45" cy="661.35" rx="67.85" ry="68.44999999999999" fill="none" stroke="#929e9e" stroke-opacity="0.6" stroke-width="0.7"/>
<ellipse cx="640.75" cy="655.0" rx="96.25" ry="98.7" fill="#5f6b6b" opacity="0.5" filter="url(#bsh)"/>
<ellipse cx="640.75" cy="653" rx="96.75" ry="99.2" fill="url(#bg1)"/>
<ellipse cx="640.75" cy="653" rx="89.75" ry="92.2" fill="none" stroke="url(#hl)" stroke-width="8" filter="url(#bhl)"/>
<ellipse cx="640.75" cy="653" rx="96.35" ry="98.8" fill="none" stroke="#929e9e" stroke-opacity="0.6" stroke-width="0.7"/>
<ellipse cx="422.25" cy="874.2" rx="97.25" ry="99.3" fill="#5f6b6b" opacity="0.5" filter="url(#bsh)"/>
<ellipse cx="422.25" cy="872.2" rx="97.75" ry="99.8" fill="url(#bg1)"/>
<ellipse cx="422.25" cy="872.2" rx="90.75" ry="92.8" fill="none" stroke="url(#hl)" stroke-width="8" filter="url(#bhl)"/>
<ellipse cx="422.25" cy="872.2" rx="97.35" ry="99.39999999999999" fill="none" stroke="#929e9e" stroke-opacity="0.6" stroke-width="0.7"/>
<ellipse cx="641.8" cy="873.05" rx="114.9" ry="116.85" fill="#5f6b6b" opacity="0.5" filter="url(#bsh)"/>
<ellipse cx="641.8" cy="871.05" rx="115.4" ry="117.35" fill="url(#bg1)"/>
<ellipse cx="641.8" cy="871.05" rx="108.4" ry="110.35" fill="none" stroke="url(#hl)" stroke-width="8" filter="url(#bhl)"/>
<ellipse cx="641.8" cy="871.05" rx="115.0" ry="116.94999999999999" fill="none" stroke="#929e9e" stroke-opacity="0.6" stroke-width="0.7"/>
</svg>
<svg id="qr" width="1625" height="1125" viewBox="0 0 1625 1125">
<rect x="1473.1" y="0.2" width="151.7" height="151.7" fill="#f0f0f0"/>
<path transform="translate(1473.1,0.2) scale(3.7000)" d="M0,0h7v1h-7zM8,0h3v1h-3zM12,0h1v1h-1zM16,0h1v1h-1zM22,0h3v1h-3zM27,0h3v1h-3zM31,0h2v1h-2zM34,0h7v1h-7zM0,1h1v1h-1zM6,1h1v1h-1zM9,1h1v1h-1zM11,1h4v1h-4zM17,1h2v1h-2zM20,1h1v1h-1zM23,1h3v1h-3zM27,1h2v1h-2zM30,1h2v1h-2zM34,1h1v1h-1zM40,1h1v1h-1zM0,2h1v1h-1zM2,2h3v1h-3zM6,2h1v1h-1zM9,2h1v1h-1zM11,2h2v1h-2zM14,2h1v1h-1zM22,2h1v1h-1zM29,2h4v1h-4zM34,2h1v1h-1zM36,2h3v1h-3zM40,2h1v1h-1zM0,3h1v1h-1zM2,3h3v1h-3zM6,3h1v1h-1zM8,3h4v1h-4zM14,3h1v1h-1zM17,3h1v1h-1zM20,3h4v1h-4zM25,3h1v1h-1zM28,3h5v1h-5zM34,3h1v1h-1zM36,3h3v1h-3zM40,3h1v1h-1zM0,4h1v1h-1zM2,4h3v1h-3zM6,4h1v1h-1zM14,4h2v1h-2zM19,4h2v1h-2zM22,4h1v1h-1zM27,4h2v1h-2zM30,4h3v1h-3zM34,4h1v1h-1zM36,4h3v1h-3zM40,4h1v1h-1zM0,5h1v1h-1zM6,5h1v1h-1zM9,5h1v1h-1zM13,5h1v1h-1zM15,5h3v1h-3zM23,5h1v1h-1zM27,5h6v1h-6zM34,5h1v1h-1zM40,5h1v1h-1zM0,6h7v1h-7zM8,6h1v1h-1zM10,6h1v1h-1zM12,6h1v1h-1zM14,6h1v1h-1zM16,6h1v1h-1zM18,6h1v1h-1zM20,6h1v1h-1zM22,6h1v1h-1zM24,6h1v1h-1zM26,6h1v1h-1zM28,6h1v1h-1zM30,6h1v1h-1zM32,6h1v1h-1zM34,6h7v1h-7zM10,7h2v1h-2zM14,7h1v1h-1zM17,7h1v1h-1zM19,7h3v1h-3zM25,7h1v1h-1zM27,7h1v1h-1zM29,7h1v1h-1zM31,7h1v1h-1zM2,8h1v1h-1zM4,8h3v1h-3zM8,8h1v1h-1zM10,8h2v1h-2zM13,8h1v1h-1zM15,8h1v1h-1zM23,8h1v1h-1zM29,8h1v1h-1zM31,8h3v1h-3zM37,8h1v1h-1zM40,8h1v1h-1zM2,9h1v1h-1zM4,9h2v1h-2zM7,9h4v1h-4zM12,9h2v1h-2zM15,9h2v1h-2zM18,9h3v1h-3zM22,9h1v1h-1zM24,9h3v1h-3zM28,9h2v1h-2zM32,9h4v1h-4zM37,9h2v1h-2zM40,9h1v1h-1zM0,10h2v1h-2zM5,10h3v1h-3zM10,10h1v1h-1zM12,10h1v1h-1zM15,10h2v1h-2zM18,10h1v1h-1zM23,10h2v1h-2zM33,10h1v1h-1zM35,10h2v1h-2zM38,10h1v1h-1zM40,10h1v1h-1zM0,11h2v1h-2zM3,11h2v1h-2zM7,11h1v1h-1zM15,11h3v1h-3zM19,11h1v1h-1zM21,11h1v1h-1zM23,11h4v1h-4zM28,11h3v1h-3zM32,11h1v1h-1zM35,11h1v1h-1zM0,12h2v1h-2zM6,12h3v1h-3zM10,12h3v1h-3zM16,12h2v1h-2zM19,12h2v1h-2zM22,12h1v1h-1zM24,12h2v1h-2zM27,12h6v1h-6zM34,12h2v1h-2zM37,12h1v1h-1zM39,12h1v1h-1zM3,13h2v1h-2zM8,13h1v1h-1zM10,13h2v1h-2zM14,13h3v1h-3zM19,13h1v1h-1zM21,13h3v1h-3zM26,13h4v1h-4zM31,13h1v1h-1zM34,13h2v1h-2zM38,13h1v1h-1zM40,13h1v1h-1zM0,14h2v1h-2zM3,14h1v1h-1zM6,14h1v1h-1zM10,14h4v1h-4zM21,14h1v1h-1zM23,14h2v1h-2zM27,14h3v1h-3zM32,14h1v1h-1zM34,14h1v1h-1zM37,14h1v1h-1zM40,14h1v1h-1zM0,15h2v1h-2zM3,15h1v1h-1zM8,15h4v1h-4zM14,15h2v1h-2zM18,15h9v1h-9zM28,15h2v1h-2zM31,15h1v1h-1zM34,15h1v1h-1zM36,15h2v1h-2zM1,16h1v1h-1zM5,16h2v1h-2zM8,16h2v1h-2zM16,16h1v1h-1zM18,16h4v1h-4zM24,16h7v1h-7zM34,16h2v1h-2zM37,16h1v1h-1zM39,16h1v1h-1zM0,17h2v1h-2zM3,17h2v1h-2zM8,17h1v1h-1zM11,17h1v1h-1zM13,17h1v1h-1zM16,17h4v1h-4zM22,17h2v1h-2zM26,17h1v1h-1zM29,17h1v1h-1zM34,17h1v1h-1zM39,17h2v1h-2zM6,18h2v1h-2zM9,18h10v1h-10zM20,18h1v1h-1zM26,18h1v1h-1zM28,18h1v1h-1zM30,18h1v1h-1zM32,18h1v1h-1zM34,18h1v1h-1zM36,18h2v1h-2zM40,18h1v1h-1zM1,19h3v1h-3zM5,19h1v1h-1zM8,19h1v1h-1zM11,19h2v1h-2zM14,19h2v1h-2zM20,19h2v1h-2zM23,19h1v1h-1zM26,19h6v1h-6zM34,19h2v1h-2zM37,19h1v1h-1zM40,19h1v1h-1zM2,20h1v1h-1zM4,20h1v1h-1zM6,20h1v1h-1zM9,20h3v1h-3zM17,20h1v1h-1zM20,20h1v1h-1zM22,20h1v1h-1zM26,20h1v1h-1zM30,20h1v1h-1zM34,20h1v1h-1zM37,20h1v1h-1zM39,20h2v1h-2zM0,21h2v1h-2zM7,21h1v1h-1zM11,21h1v1h-1zM13,21h3v1h-3zM17,21h4v1h-4zM22,21h1v1h-1zM24,21h3v1h-3zM30,21h1v1h-1zM34,21h2v1h-2zM37,21h1v1h-1zM39,21h2v1h-2zM0,22h3v1h-3zM4,22h1v1h-1zM6,22h1v1h-1zM8,22h3v1h-3zM13,22h1v1h-1zM21,22h5v1h-5zM29,22h1v1h-1zM32,22h2v1h-2zM35,22h6v1h-6zM0,23h2v1h-2zM3,23h3v1h-3zM7,23h2v1h-2zM10,23h1v1h-1zM14,23h1v1h-1zM26,23h1v1h-1zM29,23h3v1h-3zM35,23h3v1h-3zM39,23h1v1h-1zM0,24h1v1h-1zM2,24h5v1h-5zM8,24h1v1h-1zM13,24h1v1h-1zM15,24h7v1h-7zM23,24h2v1h-2zM28,24h2v1h-2zM31,24h2v1h-2zM34,24h2v1h-2zM37,24h1v1h-1zM39,24h2v1h-2zM0,25h2v1h-2zM3,25h1v1h-1zM5,25h1v1h-1zM8,25h1v1h-1zM10,25h1v1h-1zM12,25h2v1h-2zM16,25h4v1h-4zM24,25h2v1h-2zM28,25h1v1h-1zM34,25h2v1h-2zM39,25h2v1h-2zM2,26h1v1h-1zM4,26h3v1h-3zM12,26h1v1h-1zM14,26h1v1h-1zM18,26h1v1h-1zM22,26h3v1h-3zM26,26h1v1h-1zM28,26h2v1h-2zM34,26h1v1h-1zM38,26h1v1h-1zM40,26h1v1h-1zM2,27h1v1h-1zM5,27h1v1h-1zM7,27h1v1h-1zM9,27h1v1h-1zM11,27h4v1h-4zM18,27h2v1h-2zM21,27h1v1h-1zM24,27h3v1h-3zM28,27h3v1h-3zM32,27h1v1h-1zM35,27h1v1h-1zM0,28h1v1h-1zM3,28h2v1h-2zM6,28h2v1h-2zM10,28h2v1h-2zM13,28h3v1h-3zM17,28h1v1h-1zM20,28h1v1h-1zM22,28h2v1h-2zM26,28h2v1h-2zM29,28h3v1h-3zM34,28h1v1h-1zM37,28h1v1h-1zM40,28h1v1h-1zM2,29h1v1h-1zM4,29h2v1h-2zM7,29h3v1h-3zM12,29h6v1h-6zM19,29h2v1h-2zM22,29h4v1h-4zM27,29h1v1h-1zM30,29h1v1h-1zM34,29h2v1h-2zM37,29h1v1h-1zM39,29h2v1h-2zM0,30h1v1h-1zM2,30h1v1h-1zM6,30h3v1h-3zM12,30h2v1h-2zM16,30h4v1h-4zM22,30h2v1h-2zM32,30h1v1h-1zM36,30h3v1h-3zM40,30h1v1h-1zM1,31h1v1h-1zM3,31h1v1h-1zM7,31h1v1h-1zM11,31h2v1h-2zM14,31h2v1h-2zM18,31h1v1h-1zM22,31h3v1h-3zM27,31h1v1h-1zM29,31h2v1h-2zM33,31h3v1h-3zM37,31h1v1h-1zM39,31h2v1h-2zM0,32h1v1h-1zM2,32h1v1h-1zM4,32h1v1h-1zM6,32h2v1h-2zM10,32h1v1h-1zM13,32h1v1h-1zM15,32h3v1h-3zM24,32h1v1h-1zM26,32h1v1h-1zM29,32h2v1h-2zM32,32h6v1h-6zM40,32h1v1h-1zM8,33h1v1h-1zM13,33h1v1h-1zM18,33h1v1h-1zM20,33h1v1h-1zM22,33h1v1h-1zM24,33h1v1h-1zM26,33h1v1h-1zM30,33h1v1h-1zM32,33h1v1h-1zM36,33h5v1h-5zM0,34h7v1h-7zM9,34h3v1h-3zM14,34h6v1h-6zM21,34h2v1h-2zM26,34h1v1h-1zM29,34h1v1h-1zM31,34h2v1h-2zM34,34h1v1h-1zM36,34h1v1h-1zM38,34h3v1h-3zM0,35h1v1h-1zM6,35h1v1h-1zM8,35h2v1h-2zM16,35h2v1h-2zM19,35h1v1h-1zM22,35h1v1h-1zM25,35h1v1h-1zM27,35h1v1h-1zM31,35h2v1h-2zM36,35h2v1h-2zM39,35h2v1h-2zM0,36h1v1h-1zM2,36h3v1h-3zM6,36h1v1h-1zM8,36h2v1h-2zM11,36h1v1h-1zM16,36h1v1h-1zM18,36h2v1h-2zM24,36h1v1h-1zM26,36h1v1h-1zM32,36h6v1h-6zM40,36h1v1h-1zM0,37h1v1h-1zM2,37h3v1h-3zM6,37h1v1h-1zM11,37h2v1h-2zM16,37h3v1h-3zM20,37h2v1h-2zM26,37h1v1h-1zM31,37h3v1h-3zM36,37h2v1h-2zM40,37h1v1h-1zM0,38h1v1h-1zM2,38h3v1h-3zM6,38h1v1h-1zM8,38h1v1h-1zM10,38h1v1h-1zM13,38h3v1h-3zM19,38h4v1h-4zM26,38h1v1h-1zM28,38h1v1h-1zM30,38h1v1h-1zM32,38h1v1h-1zM35,38h2v1h-2zM38,38h1v1h-1zM40,38h1v1h-1zM0,39h1v1h-1zM6,39h1v1h-1zM10,39h3v1h-3zM14,39h3v1h-3zM18,39h1v1h-1zM20,39h1v1h-1zM23,39h1v1h-1zM29,39h2v1h-2zM32,39h2v1h-2zM35,39h1v1h-1zM37,39h1v1h-1zM39,39h1v1h-1zM0,40h7v1h-7zM9,40h1v1h-1zM11,40h1v1h-1zM13,40h1v1h-1zM16,40h1v1h-1zM21,40h2v1h-2zM24,40h1v1h-1zM28,40h3v1h-3zM32,40h1v1h-1zM34,40h4v1h-4zM39,40h2v1h-2z" fill="#000"/>
</svg>
<svg id="flags" style="left:440px;top:300px" width="200" height="100" viewBox="0 0 1625 812.5">
<defs><clipPath id="euL"><rect x="0" y="0" width="335" height="812"/></clipPath><clipPath id="euR"><rect x="565" y="0" width="300" height="812"/></clipPath><clipPath id="ruR"><rect x="1150" y="0" width="300" height="812"/></clipPath></defs>
<path d="M300,252 C380,215 470,248 560,206 C600,190 640,186 672,192 L645,472 C560,500 470,468 400,494 C340,514 285,500 250,482 C244,400 268,300 300,252 Z" fill="#a4c9f3"/>
<path d="M300,252 C380,215 470,248 560,206 C600,190 640,186 672,192 L645,472 C560,500 470,468 400,494 C340,514 285,500 250,482 C244,400 268,300 300,252 Z" fill="#d2e2f7" clip-path="url(#euL)"/>
<path d="M300,252 C380,215 470,248 560,206 C600,190 640,186 672,192 L645,472 C560,500 470,468 400,494 C340,514 285,500 250,482 C244,400 268,300 300,252 Z" fill="#80aaea" clip-path="url(#euR)"/>
<polygon points="478.0,226.0 482.7,238.5 496.1,239.1 485.6,247.5 489.2,260.4 478.0,253.0 466.8,260.4 470.4,247.5 459.9,239.1 473.3,238.5" fill="#f6d55c"/>
<polygon points="532.0,239.4 536.7,251.9 550.1,252.5 539.6,260.9 543.2,273.8 532.0,266.4 520.8,273.8 524.4,260.9 513.9,252.5 527.3,251.9" fill="#f6d55c"/>
<polygon points="571.5,276.0 576.2,288.5 589.6,289.1 579.1,297.5 582.7,310.4 571.5,303.0 560.4,310.4 563.9,297.5 553.5,289.1 566.8,288.5" fill="#f6d55c"/>
<polygon points="586.0,326.0 590.7,338.5 604.1,339.1 593.6,347.5 597.2,360.4 586.0,353.0 574.8,360.4 578.4,347.5 567.9,339.1 581.3,338.5" fill="#f6d55c"/>
<polygon points="571.5,376.0 576.2,388.5 589.6,389.1 579.1,397.5 582.7,410.4 571.5,403.0 560.4,410.4 563.9,397.5 553.5,389.1 566.8,388.5" fill="#f6d55c"/>
<polygon points="532.0,412.6 536.7,425.1 550.1,425.7 539.6,434.1 543.2,447.0 532.0,439.6 520.8,447.0 524.4,434.1 513.9,425.7 527.3,425.1" fill="#f6d55c"/>
<polygon points="478.0,426.0 482.7,438.5 496.1,439.1 485.6,447.5 489.2,460.4 478.0,453.0 466.8,460.4 470.4,447.5 459.9,439.1 473.3,438.5" fill="#f6d55c"/>
<polygon points="424.0,412.6 428.7,425.1 442.1,425.7 431.6,434.1 435.2,447.0 424.0,439.6 412.8,447.0 416.4,434.1 405.9,425.7 419.3,425.1" fill="#f6d55c"/>
<polygon points="384.5,376.0 389.2,388.5 402.5,389.1 392.1,397.5 395.6,410.4 384.5,403.0 373.3,410.4 376.9,397.5 366.4,389.1 379.8,388.5" fill="#f6d55c"/>
<polygon points="370.0,326.0 374.7,338.5 388.1,339.1 377.6,347.5 381.2,360.4 370.0,353.0 358.8,360.4 362.4,347.5 351.9,339.1 365.3,338.5" fill="#f6d55c"/>
<polygon points="384.5,276.0 389.2,288.5 402.5,289.1 392.1,297.5 395.6,310.4 384.5,303.0 373.3,310.4 376.9,297.5 366.4,289.1 379.8,288.5" fill="#f6d55c"/>
<polygon points="424.0,239.4 428.7,251.9 442.1,252.5 431.6,260.9 435.2,273.8 424.0,266.4 412.8,273.8 416.4,260.9 405.9,252.5 419.3,251.9" fill="#f6d55c"/>
<path d="M690,195 C682,330 655,480 605,626" fill="none" stroke="#bfe8fc" stroke-width="58"/>
<circle cx="687" cy="192" r="46" fill="#a6dcf7"/>
<path d="M815,190 C838,330 855,480 880,632" fill="none" stroke="#3a3b7a" stroke-width="46"/>
<circle cx="815" cy="184" r="40" fill="#34356f"/>
<path d="M850.0,242.0C858.3,244.3 881.7,254.7 900.0,256.0C918.3,257.3 940.0,255.0 960.0,250.0C980.0,245.0 1000.0,235.0 1020.0,226.0C1040.0,217.0 1060.0,205.3 1080.0,196.0C1100.0,186.7 1120.0,177.2 1140.0,170.0C1160.0,162.8 1184.7,155.0 1200.0,153.0C1215.3,151.0 1223.7,153.2 1232.0,158.0C1240.3,162.8 1247.0,178.0 1250.0,182.0 L1254.0,279.2C1251.4,276.7 1245.4,267.8 1238.1,264.6C1230.8,261.4 1223.7,258.9 1210.1,259.9C1196.6,260.9 1175.7,264.9 1156.9,270.5C1138.0,276.2 1116.9,285.3 1096.9,293.8C1076.9,302.4 1056.9,313.0 1036.9,321.8C1016.9,330.6 996.9,340.7 976.9,346.5C956.9,352.2 935.4,356.4 916.9,356.2C898.3,356.0 874.1,347.1 865.5,345.2Z" fill="#fdf3f3"/>
<path d="M850.0,242.0C858.3,244.3 881.7,254.7 900.0,256.0C918.3,257.3 940.0,255.0 960.0,250.0C980.0,245.0 1000.0,235.0 1020.0,226.0C1040.0,217.0 1060.0,205.3 1080.0,196.0C1100.0,186.7 1120.0,177.2 1140.0,170.0C1160.0,162.8 1184.7,155.0 1200.0,153.0C1215.3,151.0 1223.7,153.2 1232.0,158.0C1240.3,162.8 1247.0,178.0 1250.0,182.0 L1254.0,279.2C1251.4,276.7 1245.4,267.8 1238.1,264.6C1230.8,261.4 1223.7,258.9 1210.1,259.9C1196.6,260.9 1175.7,264.9 1156.9,270.5C1138.0,276.2 1116.9,285.3 1096.9,293.8C1076.9,302.4 1056.9,313.0 1036.9,321.8C1016.9,330.6 996.9,340.7 976.9,346.5C956.9,352.2 935.4,356.4 916.9,356.2C898.3,356.0 874.1,347.1 865.5,345.2Z" fill="#f6e2e0" clip-path="url(#ruR)"/>
<path d="M865.3,344.0C873.9,345.8 898.1,354.8 916.7,355.0C935.2,355.2 956.7,351.1 976.7,345.3C996.7,339.6 1016.7,329.4 1036.7,320.7C1056.7,311.9 1076.7,301.2 1096.7,292.7C1116.7,284.1 1137.8,275.0 1156.7,269.3C1175.6,263.7 1196.4,259.7 1210.0,258.7C1223.6,257.7 1230.7,260.1 1238.0,263.3C1245.3,266.6 1251.3,275.6 1254.0,278.0 L1258.0,375.2C1255.7,374.3 1250.4,371.5 1244.1,369.9C1237.8,368.3 1231.9,365.6 1220.1,365.6C1208.4,365.6 1191.3,365.7 1173.5,369.9C1155.8,374.0 1133.5,382.7 1113.5,390.5C1093.5,398.3 1073.5,407.9 1053.5,416.5C1033.5,425.0 1013.5,435.4 993.5,441.8C973.5,448.3 952.3,454.3 933.5,455.2C914.8,456.1 889.6,448.6 880.9,447.2Z" fill="#8fc5f8"/>
<path d="M865.3,344.0C873.9,345.8 898.1,354.8 916.7,355.0C935.2,355.2 956.7,351.1 976.7,345.3C996.7,339.6 1016.7,329.4 1036.7,320.7C1056.7,311.9 1076.7,301.2 1096.7,292.7C1116.7,284.1 1137.8,275.0 1156.7,269.3C1175.6,263.7 1196.4,259.7 1210.0,258.7C1223.6,257.7 1230.7,260.1 1238.0,263.3C1245.3,266.6 1251.3,275.6 1254.0,278.0 L1258.0,375.2C1255.7,374.3 1250.4,371.5 1244.1,369.9C1237.8,368.3 1231.9,365.6 1220.1,365.6C1208.4,365.6 1191.3,365.7 1173.5,369.9C1155.8,374.0 1133.5,382.7 1113.5,390.5C1093.5,398.3 1073.5,407.9 1053.5,416.5C1033.5,425.0 1013.5,435.4 993.5,441.8C973.5,448.3 952.3,454.3 933.5,455.2C914.8,456.1 889.6,448.6 880.9,447.2Z" fill="#5fa5f1" clip-path="url(#ruR)"/>
<path d="M880.7,446.0C889.4,447.3 914.6,454.9 933.3,454.0C952.1,453.1 973.3,447.1 993.3,440.7C1013.3,434.2 1033.3,423.9 1053.3,415.3C1073.3,406.8 1093.3,397.1 1113.3,389.3C1133.3,381.6 1155.6,372.8 1173.3,368.7C1191.1,364.5 1208.2,364.3 1220.0,364.3C1231.8,364.3 1237.7,367.1 1244.0,368.7C1250.3,370.3 1255.7,373.1 1258.0,374.0 L1262.0,471.2C1260.1,471.8 1255.4,475.2 1250.1,475.3C1244.8,475.3 1240.1,472.3 1230.1,471.3C1220.1,470.3 1206.9,466.5 1190.2,469.2C1173.5,471.8 1150.2,480.2 1130.2,487.2C1110.2,494.2 1090.2,502.8 1070.2,511.1C1050.2,519.5 1030.2,530.0 1010.2,537.1C990.2,544.3 969.2,552.2 950.2,554.2C931.2,556.2 905.2,550.1 896.2,549.2Z" fill="#fa8d9b"/>
<path d="M880.7,446.0C889.4,447.3 914.6,454.9 933.3,454.0C952.1,453.1 973.3,447.1 993.3,440.7C1013.3,434.2 1033.3,423.9 1053.3,415.3C1073.3,406.8 1093.3,397.1 1113.3,389.3C1133.3,381.6 1155.6,372.8 1173.3,368.7C1191.1,364.5 1208.2,364.3 1220.0,364.3C1231.8,364.3 1237.7,367.1 1244.0,368.7C1250.3,370.3 1255.7,373.1 1258.0,374.0 L1262.0,471.2C1260.1,471.8 1255.4,475.2 1250.1,475.3C1244.8,475.3 1240.1,472.3 1230.1,471.3C1220.1,470.3 1206.9,466.5 1190.2,469.2C1173.5,471.8 1150.2,480.2 1130.2,487.2C1110.2,494.2 1090.2,502.8 1070.2,511.1C1050.2,519.5 1030.2,530.0 1010.2,537.1C990.2,544.3 969.2,552.2 950.2,554.2C931.2,556.2 905.2,550.1 896.2,549.2Z" fill="#f6707f" clip-path="url(#ruR)"/>
</svg>
<svg style="left:910px;top:320px" width="160" height="160" viewBox="0 0 1125 1125"><rect x="125" y="158" width="832" height="842" rx="200" fill="#d3dfe0"/>
<rect x="350" y="535" width="385" height="105" fill="#fff"/>
<rect x="598" y="573" width="95" height="34" fill="#d3dfe0"/>
<path d="M556,392 C560,440 610,440 640,446 C676,454 684,476 678,494" fill="none" stroke="#fff" stroke-width="30"/>
<line x1="340" y1="370" x2="750" y2="780" stroke="#d3dfe0" stroke-width="150"/>
<line x1="352" y1="382" x2="738" y2="768" stroke="#fff" stroke-width="84"/>
<circle cx="545" cy="575" r="266" fill="none" stroke="#fff" stroke-width="82"/></svg>
<svg style="left:910px;top:485px" width="160" height="160" viewBox="0 0 1125 1125"><rect x="112" y="125" width="850" height="853" rx="200" fill="#d3dfe0"/>
<rect x="188" y="258" width="274" height="550" rx="137" fill="#fff"/>
<path d="M268,530 V397 A57,57 0 0 1 382,397 V530 Z" fill="#d3dfe0"/>
<ellipse cx="697" cy="613" rx="195" ry="196" fill="#fff"/>
<line x1="575" y1="468" x2="860" y2="725" stroke="#d3dfe0" stroke-width="29"/></svg>
<svg style="left:910px;top:650px" width="160" height="160" viewBox="0 0 1125 1125"><rect x="125" y="130" width="840" height="850" rx="200" fill="#d3dfe0"/>
<g transform="translate(255,840) rotate(-45)">
<line x1="0" y1="0" x2="150" y2="0" stroke="#fff" stroke-width="52" stroke-linecap="round"/>
<path d="M112,-26 L206,-120 H600 V120 H206 L112,26 Z" fill="#fff" stroke="#fff" stroke-width="10" stroke-linejoin="round"/>
<rect x="594" y="-152" width="64" height="304" rx="30" fill="#fff"/>
<rect x="640" y="-30" width="110" height="60" fill="#fff"/>
<rect x="736" y="-86" width="60" height="172" rx="28" fill="#fff"/>
<line x1="329" y1="-128" x2="329" y2="-22" stroke="#d3dfe0" stroke-width="27" stroke-linecap="round"/>
<line x1="433" y1="-128" x2="433" y2="-22" stroke="#d3dfe0" stroke-width="27" stroke-linecap="round"/>
</g></svg>
<svg style="left:910px;top:815px" width="160" height="160" viewBox="0 0 1125 1125"><rect x="112" y="135" width="860" height="865" rx="200" fill="#d3dfe0"/>
<path d="M392,360 C430,352 458,380 462,430 C466,470 470,500 500,520 L541,548 L541,560 C500,600 472,640 470,700 C468,760 450,800 420,812 C380,828 330,832 280,848 C230,862 180,840 168,790 C158,740 180,650 215,570 C250,490 300,400 340,375 C360,362 375,360 392,360 Z" fill="#fff"/>
<path d="M392,360 C430,352 458,380 462,430 C466,470 470,500 500,520 L541,548 L541,560 C500,600 472,640 470,700 C468,760 450,800 420,812 C380,828 330,832 280,848 C230,862 180,840 168,790 C158,740 180,650 215,570 C250,490 300,400 340,375 C360,362 375,360 392,360 Z" fill="#fff" transform="translate(1083,0) scale(-1,1)"/>
<path d="M505,470 V282 A36.5,36.5 0 0 1 578,282 V470 L620,505 L541,560 L462,505 Z" fill="#fff"/>
<path d="M470,400 C480,430 484,470 500,478 L503,400 Z" fill="#d3dfe0"/>
<path d="M541,545 L340,688" stroke="#d3dfe0" stroke-width="30" stroke-linecap="round"/>
<path d="M541,545 L742,688" stroke="#d3dfe0" stroke-width="30" stroke-linecap="round"/>
<path d="M462,400 C470,440 470,480 490,492 L505,480 V400 Z" fill="#d3dfe0"/>
<path d="M621,400 C613,440 613,480 593,492 L578,480 V400 Z" fill="#d3dfe0"/></svg>
<svg id="txt" width="1625" height="1125" viewBox="0 0 1625 1125">
<text x="28.99" y="70.90" font-size="40.3" fill="#ffffff" textLength="557.58" lengthAdjust="spacingAndGlyphs" style="font-family:'DejaVu Sans',sans-serif" stroke="#023b4b" stroke-width="0.9">БЕЗОПАСНОСТЬ И РИСК</text>
<text x="28.31" y="118.80" font-size="47.6" fill="#ffffff" textLength="562.59" lengthAdjust="spacingAndGlyphs" font-weight="bold" style="font-family:'DejaVu Sans',sans-serif">ФАРМАКОТЕРАПИИ</text>
<text x="670.40" y="49.60" font-size="28.2" fill="#073a4e" textLength="644.64" lengthAdjust="spacingAndGlyphs" font-weight="bold">Хроническая обструктивная болезнь легких:</text>
<text x="670.40" y="84.60" font-size="28.2" fill="#073a4e" textLength="733.27" lengthAdjust="spacingAndGlyphs" font-weight="bold">экономическое бремя на примере России и других</text>
<text x="669.37" y="119.50" font-size="28.2" fill="#073a4e" textLength="386.85" lengthAdjust="spacingAndGlyphs" font-weight="bold">европейских стран (обзор)</text>
<text x="478.80" y="239.50" font-size="42" fill="#2f5597" textLength="133.73" lengthAdjust="spacingAndGlyphs" font-weight="bold">ХОБЛ:</text>
<text x="367.50" y="290.40" font-size="42.5" fill="#2f5597" textLength="355.01" lengthAdjust="spacingAndGlyphs" font-weight="bold">структура затрат</text>
<text x="346.06" y="360.30" font-size="32" fill="#073a4e" textLength="113.74" lengthAdjust="spacingAndGlyphs" font-weight="bold">Европа</text>
<text x="610.87" y="360.30" font-size="32" fill="#073a4e" textLength="109.75" lengthAdjust="spacingAndGlyphs" font-weight="bold">Россия</text>
<text x="120.06" y="499.70" font-size="29" fill="#073a4e" textLength="219.25" lengthAdjust="spacingAndGlyphs" font-weight="bold">Госпитализация</text>
<text x="119.00" y="671.90" font-size="29" fill="#073a4e" textLength="209.92" lengthAdjust="spacingAndGlyphs" font-weight="bold">Лекарственное</text>
<text x="118.83" y="711.10" font-size="29" fill="#073a4e" textLength="180.00" lengthAdjust="spacingAndGlyphs" font-weight="bold">обеспечение</text>
<text x="119.75" y="875.70" font-size="29" fill="#073a4e" textLength="152.37" lengthAdjust="spacingAndGlyphs" font-weight="bold">Косвенные</text>
<text x="119.75" y="915.40" font-size="29" fill="#073a4e" textLength="118.92" lengthAdjust="spacingAndGlyphs" font-weight="bold">расходы</text>
<text x="392.20" y="495.30" font-size="29.5" fill="#073a4e" textLength="72.22" lengthAdjust="spacingAndGlyphs" font-weight="bold">≈50%</text>
<text x="603.80" y="494.00" font-size="29.5" fill="#073a4e" textLength="71.12" lengthAdjust="spacingAndGlyphs" font-weight="bold">≈19%</text>
<text x="388.00" y="676.60" font-size="29.5" fill="#073a4e" textLength="71.72" lengthAdjust="spacingAndGlyphs" font-weight="bold">≈25%</text>
<text x="603.00" y="662.80" font-size="29.5" fill="#073a4e" textLength="72.92" lengthAdjust="spacingAndGlyphs" font-weight="bold">≈76%</text>
<text x="384.30" y="882.80" font-size="29.5" fill="#073a4e" textLength="73.83" lengthAdjust="spacingAndGlyphs" font-weight="bold">≈78%</text>
<text x="603.40" y="881.60" font-size="29.5" fill="#073a4e" textLength="73.83" lengthAdjust="spacingAndGlyphs" font-weight="bold">≈93%</text>
<text x="915.58" y="239.90" font-size="42" fill="#c00000" textLength="564.81" lengthAdjust="spacingAndGlyphs" font-weight="bold">Способы снижения затрат</text>
<text x="1108.77" y="290.40" font-size="42" fill="#c00000" textLength="181.03" lengthAdjust="spacingAndGlyphs" font-weight="bold">на ХОБЛ</text>
<text x="1063.91" y="415.80" font-size="27.7" fill="#073a4e" textLength="240.88" lengthAdjust="spacingAndGlyphs">Отказ от курения</text>
<text x="1105.22" y="450.80" font-size="27.7" fill="#073a4e" textLength="297.45" lengthAdjust="spacingAndGlyphs">обострений на 39,7%</text>
<text x="1063.42" y="561.20" font-size="27.7" fill="#073a4e" textLength="190.76" lengthAdjust="spacingAndGlyphs">Современная</text>
<text x="1063.41" y="597.80" font-size="27.7" fill="#073a4e" textLength="238.16" lengthAdjust="spacingAndGlyphs">фармакотерапия</text>
<text x="1105.22" y="634.30" font-size="27.7" fill="#073a4e" textLength="269.04" lengthAdjust="spacingAndGlyphs">смертности на 49%</text>
<text x="1064.10" y="744.30" font-size="27.7" fill="#073a4e" textLength="169.79" lengthAdjust="spacingAndGlyphs">Вакцинация</text>
<text x="1105.62" y="780.60" font-size="27.7" fill="#073a4e" textLength="330.05" lengthAdjust="spacingAndGlyphs">госпитализаций на 50%</text>
<text x="1063.60" y="890.70" font-size="27.7" fill="#073a4e" textLength="339.49" lengthAdjust="spacingAndGlyphs">Легочная реабилитация</text>
<text x="1105.39" y="926.50" font-size="27.7" fill="#073a4e" textLength="222.83" lengthAdjust="spacingAndGlyphs">риск повторных</text>
<text x="1065.02" y="963.30" font-size="27.7" fill="#073a4e" textLength="359.30" lengthAdjust="spacingAndGlyphs">госпитализаций (OR 0,44)</text>
<text x="1068.60" y="448.90" font-size="29.7" fill="#c00000" textLength="21.64" lengthAdjust="spacingAndGlyphs" style="font-family:'DejaVu Sans',sans-serif">▼</text>
<text x="1068.60" y="632.20" font-size="29.7" fill="#c00000" textLength="21.64" lengthAdjust="spacingAndGlyphs" style="font-family:'DejaVu Sans',sans-serif">▼</text>
<text x="1068.60" y="778.40" font-size="29.7" fill="#c00000" textLength="21.64" lengthAdjust="spacingAndGlyphs" style="font-family:'DejaVu Sans',sans-serif">▼</text>
<text x="1068.60" y="924.40" font-size="29.7" fill="#c00000" textLength="21.64" lengthAdjust="spacingAndGlyphs" style="font-family:'DejaVu Sans',sans-serif">▼</text>
<text x="66.93" y="1076.80" font-size="21" fill="#5c5c5c" textLength="649.04" lengthAdjust="spacingAndGlyphs">Розанова Г.С., Завиткевич Г.И., Бонцевич Р.А., Максимов М.Л.</text>
<text x="68.00" y="1104.80" font-size="21" fill="#5c5c5c" textLength="412.66" lengthAdjust="spacingAndGlyphs" font-style="italic">Безопасность и риск фармакотерапии</text>
<text x="481.48" y="1104.80" font-size="21" fill="#5c5c5c" textLength="210.39" lengthAdjust="spacingAndGlyphs">. 2026;14(1):109–120.</text>
<text x="696.90" y="1104.80" font-size="21" fill="#1d5fa7" textLength="567.05" lengthAdjust="spacingAndGlyphs" text-decoration="underline">https://doi.org/10.30895/2312-7821-2026-14-1-109-120</text>
</svg>
</body>
</html>
